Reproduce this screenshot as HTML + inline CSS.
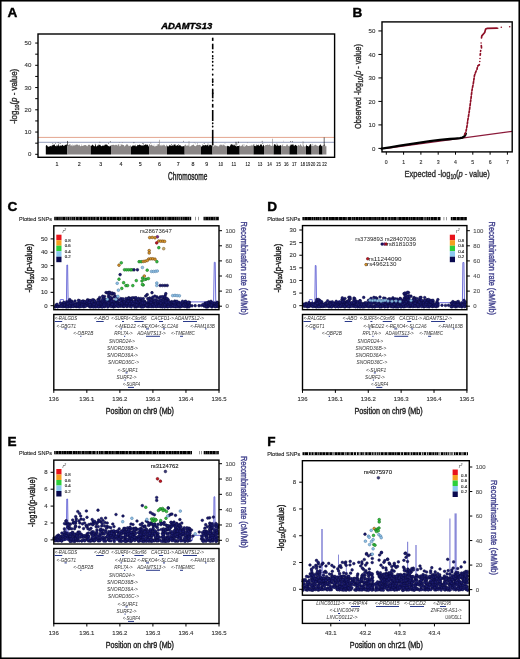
<!DOCTYPE html>
<html><head><meta charset="utf-8"><style>
html,body{margin:0;padding:0;background:#fff;}
svg{display:block;will-change:transform;}
text{font-family:"Liberation Sans",sans-serif;}
</style></head><body>
<svg width="520" height="659" viewBox="0 0 520 659">
<rect x="0" y="0" width="520" height="659" fill="#fff"/>
<rect x="0.75" y="0.75" width="518.50" height="657.50" fill="none" stroke="#000" stroke-width="1.6" />
<text x="7.40" y="16.80" font-size="13.6" text-anchor="start" font-weight="bold" font-style="normal" fill="#000" stroke="#000" stroke-width="0.4">A</text>
<text x="352.40" y="17.00" font-size="13.6" text-anchor="start" font-weight="bold" font-style="normal" fill="#000" stroke="#000" stroke-width="0.4">B</text>
<text x="7.40" y="210.50" font-size="13.6" text-anchor="start" font-weight="bold" font-style="normal" fill="#000" stroke="#000" stroke-width="0.4">C</text>
<text x="267.20" y="210.50" font-size="13.6" text-anchor="start" font-weight="bold" font-style="normal" fill="#000" stroke="#000" stroke-width="0.4">D</text>
<text x="7.40" y="445.50" font-size="13.6" text-anchor="start" font-weight="bold" font-style="normal" fill="#000" stroke="#000" stroke-width="0.4">E</text>
<text x="267.20" y="445.50" font-size="13.6" text-anchor="start" font-weight="bold" font-style="normal" fill="#000" stroke="#000" stroke-width="0.4">F</text>
<line x1="38.00" y1="137.40" x2="334.60" y2="137.40" stroke="#e3a58f" stroke-width="1.0"/>
<line x1="38.00" y1="142.30" x2="334.60" y2="142.30" stroke="#a9b1c9" stroke-width="1.3"/>
<polygon points="45.80,154.40 45.80,145.91 46.42,145.07 46.98,145.36 47.77,146.59 48.68,146.64 49.52,146.56 50.10,145.65 51.26,146.42 51.94,145.13 53.19,145.26 54.01,144.24 54.55,144.54 55.28,146.37 55.88,145.95 57.03,146.27 57.99,145.10 58.79,145.33 59.34,146.58 60.01,144.99 60.85,145.93 61.82,145.58 62.56,144.70 63.62,146.11 64.58,145.39 65.78,144.87 66.51,144.23 67.10,145.67 67.40,146.12 67.40,154.40" fill="#050505"/>
<circle cx="56.37" cy="145.13" r="0.45" fill="#050505"/>
<circle cx="60.07" cy="143.57" r="0.45" fill="#050505"/>
<circle cx="58.10" cy="142.86" r="0.45" fill="#050505"/>
<circle cx="52.76" cy="143.86" r="0.45" fill="#050505"/>
<circle cx="58.54" cy="144.21" r="0.45" fill="#050505"/>
<circle cx="55.70" cy="143.14" r="0.45" fill="#050505"/>
<polygon points="67.40,154.40 67.40,144.32 68.28,145.04 68.83,144.94 69.85,144.19 71.00,146.01 71.81,145.02 72.33,145.55 72.96,146.44 73.51,144.77 74.11,146.10 74.93,144.51 75.49,145.59 76.43,144.47 77.59,144.52 78.31,145.67 79.10,144.47 80.36,146.35 81.00,146.14 81.69,145.49 82.66,146.06 83.17,145.66 83.96,145.29 85.22,144.97 86.14,145.15 87.18,146.60 88.40,144.74 89.60,144.69 90.41,145.71 90.80,145.58 90.80,154.40" fill="#8a8686"/>
<circle cx="69.29" cy="145.10" r="0.45" fill="#8a8686"/>
<circle cx="72.58" cy="144.98" r="0.45" fill="#8a8686"/>
<circle cx="75.52" cy="145.12" r="0.45" fill="#8a8686"/>
<circle cx="67.91" cy="145.00" r="0.45" fill="#8a8686"/>
<circle cx="70.17" cy="144.67" r="0.45" fill="#8a8686"/>
<circle cx="68.47" cy="142.87" r="0.45" fill="#8a8686"/>
<circle cx="81.66" cy="145.00" r="0.45" fill="#8a8686"/>
<polygon points="90.80,154.40 90.80,146.09 91.58,145.80 92.18,144.56 93.47,145.54 94.36,146.52 94.94,145.86 95.65,144.61 96.28,146.68 97.54,145.38 98.16,145.35 98.68,145.38 99.96,144.53 101.02,146.07 101.81,146.31 102.93,145.37 104.05,145.89 104.73,144.66 106.02,144.55 107.17,144.64 108.26,146.15 109.17,145.83 109.69,146.66 110.42,146.07 111.00,145.23 111.00,154.40" fill="#050505"/>
<circle cx="99.89" cy="142.10" r="0.45" fill="#050505"/>
<circle cx="110.27" cy="141.73" r="0.45" fill="#050505"/>
<circle cx="98.30" cy="144.90" r="0.45" fill="#050505"/>
<circle cx="95.66" cy="144.93" r="0.45" fill="#050505"/>
<circle cx="95.22" cy="144.09" r="0.45" fill="#050505"/>
<circle cx="108.59" cy="143.14" r="0.45" fill="#050505"/>
<polygon points="111.00,154.40 111.00,145.51 112.02,144.69 112.59,145.04 113.82,144.73 114.92,145.51 115.56,144.72 116.33,144.69 117.60,145.72 118.43,144.31 119.51,146.30 120.11,146.35 121.33,144.67 121.95,144.62 123.23,145.05 124.01,145.33 124.62,146.70 125.89,145.07 126.82,144.35 127.66,144.50 128.82,146.19 129.52,145.99 130.22,145.23 130.92,145.66 131.00,145.28 131.00,154.40" fill="#8a8686"/>
<circle cx="118.22" cy="144.50" r="0.45" fill="#8a8686"/>
<circle cx="122.58" cy="142.57" r="0.45" fill="#8a8686"/>
<circle cx="119.49" cy="142.40" r="0.45" fill="#8a8686"/>
<circle cx="121.03" cy="144.33" r="0.45" fill="#8a8686"/>
<circle cx="121.45" cy="145.16" r="0.45" fill="#8a8686"/>
<circle cx="119.86" cy="144.95" r="0.45" fill="#8a8686"/>
<polygon points="131.00,154.40 131.00,146.72 132.14,146.29 133.02,144.88 133.96,145.90 134.88,145.31 136.01,146.46 136.95,146.10 137.68,144.76 138.58,145.30 139.69,144.40 140.54,145.17 141.45,145.42 142.50,145.58 143.43,145.51 144.68,144.95 145.88,144.32 146.59,145.30 147.85,144.59 148.46,146.42 149.00,146.21 149.00,154.40" fill="#050505"/>
<circle cx="135.59" cy="145.09" r="0.45" fill="#050505"/>
<circle cx="142.88" cy="143.47" r="0.45" fill="#050505"/>
<circle cx="146.75" cy="144.99" r="0.45" fill="#050505"/>
<circle cx="143.67" cy="143.98" r="0.45" fill="#050505"/>
<circle cx="133.93" cy="142.79" r="0.45" fill="#050505"/>
<polygon points="149.00,154.40 149.00,144.26 149.68,144.30 150.49,145.49 151.79,144.60 152.42,145.63 153.33,145.87 153.98,145.92 155.06,146.69 156.01,145.61 156.52,145.89 157.52,145.42 158.07,144.21 159.20,144.25 159.78,146.06 160.32,144.74 161.03,146.40 161.87,144.40 163.03,146.07 163.65,144.38 164.60,144.94 165.17,146.59 166.22,145.65 166.78,144.33 167.00,145.40 167.00,154.40" fill="#8a8686"/>
<circle cx="150.92" cy="143.02" r="0.45" fill="#8a8686"/>
<circle cx="150.63" cy="142.97" r="0.45" fill="#8a8686"/>
<circle cx="157.21" cy="144.72" r="0.45" fill="#8a8686"/>
<circle cx="158.90" cy="142.27" r="0.45" fill="#8a8686"/>
<circle cx="154.05" cy="145.02" r="0.45" fill="#8a8686"/>
<polygon points="167.00,154.40 167.00,145.39 167.69,146.45 168.32,146.61 168.98,145.94 169.73,144.79 170.46,145.46 171.10,145.85 171.61,146.09 172.13,144.86 173.07,146.25 173.95,144.34 174.53,144.64 175.38,145.47 176.55,145.73 177.45,144.98 178.74,145.86 179.90,144.93 180.91,145.70 181.69,146.60 182.29,146.55 183.39,146.08 184.02,146.52 184.70,145.32 184.70,154.40" fill="#050505"/>
<circle cx="178.70" cy="144.81" r="0.45" fill="#050505"/>
<circle cx="171.54" cy="144.79" r="0.45" fill="#050505"/>
<circle cx="175.17" cy="144.99" r="0.45" fill="#050505"/>
<circle cx="174.95" cy="144.84" r="0.45" fill="#050505"/>
<circle cx="183.56" cy="141.17" r="0.45" fill="#050505"/>
<polygon points="184.70,154.40 184.70,145.34 185.40,144.26 186.14,145.82 186.64,145.76 187.52,145.45 188.18,145.44 188.69,146.06 189.26,145.71 189.79,146.68 190.54,146.14 191.51,145.38 192.61,145.05 193.68,144.49 194.49,145.90 195.78,146.35 196.86,145.09 197.39,144.60 198.61,145.13 199.69,144.66 200.30,145.39 201.00,145.36 201.00,154.40" fill="#8a8686"/>
<circle cx="197.51" cy="143.23" r="0.45" fill="#8a8686"/>
<circle cx="194.14" cy="142.69" r="0.45" fill="#8a8686"/>
<circle cx="195.65" cy="143.86" r="0.45" fill="#8a8686"/>
<circle cx="188.72" cy="145.14" r="0.45" fill="#8a8686"/>
<polygon points="201.00,154.40 201.00,146.39 201.79,146.47 202.96,145.31 203.96,145.13 205.00,145.48 205.51,144.69 206.61,145.45 207.53,145.05 208.09,144.85 208.79,146.54 209.50,144.87 210.16,144.84 211.45,145.47 212.25,145.51 212.50,145.44 212.50,154.40" fill="#050505"/>
<circle cx="207.98" cy="144.03" r="0.45" fill="#050505"/>
<circle cx="202.31" cy="145.00" r="0.45" fill="#050505"/>
<circle cx="204.17" cy="143.67" r="0.45" fill="#050505"/>
<polygon points="212.50,154.40 212.50,145.96 213.45,146.70 214.00,146.05 215.04,144.96 216.08,145.99 216.99,145.55 217.87,146.43 219.08,146.23 220.36,144.34 220.88,145.56 222.03,144.26 222.89,146.05 223.56,144.32 224.23,145.25 224.84,145.39 226.11,146.40 227.00,145.72 227.00,154.40" fill="#8a8686"/>
<circle cx="224.97" cy="143.83" r="0.45" fill="#8a8686"/>
<circle cx="216.12" cy="142.64" r="0.45" fill="#8a8686"/>
<circle cx="219.56" cy="145.15" r="0.45" fill="#8a8686"/>
<circle cx="213.05" cy="144.42" r="0.45" fill="#8a8686"/>
<polygon points="227.00,154.40 227.00,145.58 227.74,146.37 228.52,145.93 229.69,146.73 230.79,144.59 231.39,144.36 232.46,144.43 233.19,145.78 234.00,144.18 234.97,145.81 235.82,146.03 236.35,146.47 237.52,146.00 238.77,146.10 239.48,145.43 239.70,145.87 239.70,154.40" fill="#050505"/>
<circle cx="238.69" cy="142.78" r="0.45" fill="#050505"/>
<circle cx="237.00" cy="144.07" r="0.45" fill="#050505"/>
<circle cx="238.19" cy="142.03" r="0.45" fill="#050505"/>
<polygon points="239.70,154.40 239.70,145.33 240.78,146.61 241.86,145.58 242.96,145.09 243.69,146.61 244.93,146.41 245.81,145.86 246.55,144.84 247.83,146.07 248.86,145.97 249.80,145.73 250.44,146.32 251.10,144.42 252.00,146.17 253.22,144.19 253.50,146.13 253.50,154.40" fill="#8a8686"/>
<circle cx="242.66" cy="145.07" r="0.45" fill="#8a8686"/>
<circle cx="244.58" cy="145.07" r="0.45" fill="#8a8686"/>
<circle cx="243.26" cy="144.84" r="0.45" fill="#8a8686"/>
<circle cx="247.49" cy="142.75" r="0.45" fill="#8a8686"/>
<polygon points="253.50,154.40 253.50,144.82 254.33,145.68 255.25,145.77 256.02,146.58 256.74,144.26 257.34,145.45 258.35,144.53 259.02,146.04 259.72,145.71 260.57,144.29 261.75,144.50 262.27,146.65 263.34,144.44 264.00,145.64 264.00,154.40" fill="#050505"/>
<circle cx="254.00" cy="144.62" r="0.45" fill="#050505"/>
<circle cx="262.80" cy="143.23" r="0.45" fill="#050505"/>
<circle cx="262.13" cy="141.19" r="0.45" fill="#050505"/>
<polygon points="264.00,154.40 264.00,146.10 264.59,146.34 265.51,144.99 266.76,144.89 267.78,144.78 268.64,145.32 269.17,144.73 269.86,144.38 270.88,145.96 271.48,146.09 272.49,144.95 273.08,146.55 273.60,145.64 273.60,154.40" fill="#8a8686"/>
<circle cx="267.84" cy="144.90" r="0.45" fill="#8a8686"/>
<circle cx="269.67" cy="145.17" r="0.45" fill="#8a8686"/>
<polygon points="273.60,154.40 273.60,145.96 274.47,144.28 275.48,144.47 276.36,146.13 277.06,144.28 278.13,145.95 278.64,145.46 279.68,145.66 280.39,145.03 281.40,146.04 281.40,154.40" fill="#050505"/>
<circle cx="274.33" cy="144.72" r="0.45" fill="#050505"/>
<circle cx="276.96" cy="143.90" r="0.45" fill="#050505"/>
<polygon points="281.40,154.40 281.40,146.23 282.54,144.84 283.44,146.21 284.72,145.94 285.87,146.14 286.55,144.79 287.29,144.30 288.18,146.26 288.86,145.67 289.40,145.23 289.40,154.40" fill="#8a8686"/>
<circle cx="282.92" cy="144.62" r="0.45" fill="#8a8686"/>
<circle cx="283.39" cy="141.11" r="0.45" fill="#8a8686"/>
<polygon points="289.40,154.40 289.40,146.37 289.94,146.58 290.76,144.44 291.96,144.86 293.26,144.35 294.02,146.26 295.27,144.83 295.80,145.03 296.60,145.78 297.37,146.30 297.50,145.98 297.50,154.40" fill="#050505"/>
<circle cx="292.40" cy="141.71" r="0.45" fill="#050505"/>
<circle cx="290.78" cy="141.47" r="0.45" fill="#050505"/>
<polygon points="297.50,154.40 297.50,146.20 298.29,144.63 299.44,145.63 299.98,145.52 300.78,144.38 301.43,145.80 302.65,146.66 303.48,144.66 304.59,146.63 305.12,146.57 306.00,146.00 306.00,154.40" fill="#8a8686"/>
<circle cx="303.60" cy="142.63" r="0.45" fill="#8a8686"/>
<circle cx="300.54" cy="144.82" r="0.45" fill="#8a8686"/>
<polygon points="306.00,154.40 306.00,144.28 306.99,146.06 308.07,145.93 308.79,146.73 309.89,144.39 310.90,144.32 311.42,146.14 311.60,145.23 311.60,154.40" fill="#050505"/>
<circle cx="310.89" cy="144.63" r="0.45" fill="#050505"/>
<polygon points="311.60,154.40 311.60,146.09 312.44,145.47 313.69,146.27 314.83,144.85 315.99,144.76 316.97,145.90 317.73,145.81 318.85,146.53 319.00,145.45 319.00,154.40" fill="#8a8686"/>
<circle cx="313.68" cy="145.10" r="0.45" fill="#8a8686"/>
<circle cx="312.32" cy="144.28" r="0.45" fill="#8a8686"/>
<polygon points="319.00,154.40 319.00,145.90 320.28,144.47 321.57,146.06 322.14,146.49 322.60,145.50 322.60,154.40" fill="#050505"/>
<circle cx="320.66" cy="144.88" r="0.45" fill="#050505"/>
<polygon points="322.60,154.40 322.60,145.67 323.60,145.01 324.69,144.57 325.73,146.42 326.40,145.96 326.40,154.40" fill="#8a8686"/>
<circle cx="324.69" cy="144.66" r="0.45" fill="#8a8686"/>
<line x1="67.50" y1="145.84" x2="67.50" y2="140.95" stroke="#050505" stroke-width="0.6"/>
<line x1="159.50" y1="145.84" x2="159.50" y2="139.84" stroke="#8a8686" stroke-width="0.6"/>
<line x1="272.50" y1="145.84" x2="272.50" y2="138.73" stroke="#8a8686" stroke-width="0.6"/>
<line x1="324.20" y1="145.84" x2="324.20" y2="137.39" stroke="#050505" stroke-width="0.6"/>
<line x1="189.00" y1="145.84" x2="189.00" y2="140.95" stroke="#8a8686" stroke-width="0.6"/>
<line x1="236.00" y1="145.84" x2="236.00" y2="141.84" stroke="#050505" stroke-width="0.6"/>
<line x1="303.00" y1="145.84" x2="303.00" y2="141.17" stroke="#8a8686" stroke-width="0.6"/>
<line x1="212.70" y1="145.40" x2="212.70" y2="129.80" stroke="#000" stroke-width="1.6"/>
<line x1="212.70" y1="37.70" x2="212.70" y2="40.90" stroke="#000" stroke-width="1.6"/>
<line x1="212.70" y1="43.70" x2="212.70" y2="49.30" stroke="#000" stroke-width="1.6"/>
<line x1="212.70" y1="90.00" x2="212.70" y2="98.30" stroke="#000" stroke-width="1.6"/>
<line x1="212.70" y1="103.90" x2="212.70" y2="107.60" stroke="#000" stroke-width="1.6"/>
<line x1="212.70" y1="110.00" x2="212.70" y2="121.00" stroke="#000" stroke-width="1.6"/>
<ellipse cx="212.70" cy="56.20" rx="0.85" ry="1.1" fill="#000"/>
<ellipse cx="212.70" cy="58.50" rx="0.85" ry="1.1" fill="#000"/>
<ellipse cx="212.70" cy="61.80" rx="0.85" ry="1.1" fill="#000"/>
<ellipse cx="212.70" cy="65.50" rx="0.85" ry="1.1" fill="#000"/>
<ellipse cx="212.70" cy="74.70" rx="0.85" ry="1.1" fill="#000"/>
<ellipse cx="212.70" cy="79.40" rx="0.85" ry="1.1" fill="#000"/>
<ellipse cx="212.70" cy="81.00" rx="0.85" ry="1.1" fill="#000"/>
<ellipse cx="212.70" cy="82.10" rx="0.85" ry="1.1" fill="#000"/>
<ellipse cx="212.70" cy="84.90" rx="0.85" ry="1.1" fill="#000"/>
<ellipse cx="212.70" cy="89.60" rx="0.85" ry="1.1" fill="#000"/>
<ellipse cx="212.70" cy="93.30" rx="0.85" ry="1.1" fill="#000"/>
<ellipse cx="212.70" cy="100.60" rx="0.85" ry="1.1" fill="#000"/>
<ellipse cx="212.70" cy="123.30" rx="0.85" ry="1.1" fill="#000"/>
<ellipse cx="212.70" cy="126.60" rx="0.85" ry="1.1" fill="#000"/>
<ellipse cx="212.70" cy="52.00" rx="0.85" ry="1.1" fill="#000"/>
<ellipse cx="212.70" cy="69.50" rx="0.85" ry="1.1" fill="#000"/>
<rect x="38.00" y="34.00" width="296.60" height="123.30" fill="none" stroke="#000" stroke-width="1.4" />
<line x1="35.20" y1="154.30" x2="38.00" y2="154.30" stroke="#000" stroke-width="1"/>
<line x1="35.20" y1="143.18" x2="38.00" y2="143.18" stroke="#000" stroke-width="1"/>
<line x1="35.20" y1="132.05" x2="38.00" y2="132.05" stroke="#000" stroke-width="1"/>
<line x1="35.20" y1="120.93" x2="38.00" y2="120.93" stroke="#000" stroke-width="1"/>
<line x1="35.20" y1="109.80" x2="38.00" y2="109.80" stroke="#000" stroke-width="1"/>
<line x1="35.20" y1="98.68" x2="38.00" y2="98.68" stroke="#000" stroke-width="1"/>
<line x1="35.20" y1="87.55" x2="38.00" y2="87.55" stroke="#000" stroke-width="1"/>
<line x1="35.20" y1="76.43" x2="38.00" y2="76.43" stroke="#000" stroke-width="1"/>
<line x1="35.20" y1="65.30" x2="38.00" y2="65.30" stroke="#000" stroke-width="1"/>
<line x1="35.20" y1="54.18" x2="38.00" y2="54.18" stroke="#000" stroke-width="1"/>
<line x1="35.20" y1="43.05" x2="38.00" y2="43.05" stroke="#000" stroke-width="1"/>
<text x="31.30" y="156.40" font-size="6.1" text-anchor="end" font-weight="normal" font-style="normal" fill="#333" stroke="#333" stroke-width="0.12">0</text>
<text x="31.30" y="134.15" font-size="6.1" text-anchor="end" font-weight="normal" font-style="normal" fill="#333" stroke="#333" stroke-width="0.12">10</text>
<text x="31.30" y="111.90" font-size="6.1" text-anchor="end" font-weight="normal" font-style="normal" fill="#333" stroke="#333" stroke-width="0.12">20</text>
<text x="31.30" y="89.65" font-size="6.1" text-anchor="end" font-weight="normal" font-style="normal" fill="#333" stroke="#333" stroke-width="0.12">30</text>
<text x="31.30" y="67.40" font-size="6.1" text-anchor="end" font-weight="normal" font-style="normal" fill="#333" stroke="#333" stroke-width="0.12">40</text>
<text x="31.30" y="45.15" font-size="6.1" text-anchor="end" font-weight="normal" font-style="normal" fill="#333" stroke="#333" stroke-width="0.12">50</text>
<text transform="translate(17.4,96.3) rotate(-90)" font-size="8.6" fill="#333" stroke="#333" stroke-width="0.4" text-anchor="middle" textLength="55" lengthAdjust="spacingAndGlyphs">-log<tspan font-size="5.8" dy="1.8">10</tspan><tspan dy="-1.8">(</tspan><tspan font-style="italic">p</tspan> - value)</text>
<text x="56.90" y="166.00" font-size="5.3" text-anchor="middle" font-weight="normal" font-style="normal" fill="#222" stroke="#222" stroke-width="0.12">1</text>
<text x="79.20" y="166.00" font-size="5.3" text-anchor="middle" font-weight="normal" font-style="normal" fill="#222" stroke="#222" stroke-width="0.12">2</text>
<text x="100.80" y="166.00" font-size="5.3" text-anchor="middle" font-weight="normal" font-style="normal" fill="#222" stroke="#222" stroke-width="0.12">3</text>
<text x="121.00" y="166.00" font-size="5.3" text-anchor="middle" font-weight="normal" font-style="normal" fill="#222" stroke="#222" stroke-width="0.12">4</text>
<text x="140.30" y="166.00" font-size="5.3" text-anchor="middle" font-weight="normal" font-style="normal" fill="#222" stroke="#222" stroke-width="0.12">5</text>
<text x="159.50" y="166.00" font-size="5.3" text-anchor="middle" font-weight="normal" font-style="normal" fill="#222" stroke="#222" stroke-width="0.12">6</text>
<text x="178.30" y="166.00" font-size="5.3" text-anchor="middle" font-weight="normal" font-style="normal" fill="#222" stroke="#222" stroke-width="0.12">7</text>
<text x="193.00" y="166.00" font-size="5.3" text-anchor="middle" font-weight="normal" font-style="normal" fill="#222" stroke="#222" stroke-width="0.12">8</text>
<text x="206.70" y="166.00" font-size="5.3" text-anchor="middle" font-weight="normal" font-style="normal" fill="#222" stroke="#222" stroke-width="0.12">9</text>
<text x="220.70" y="166.00" font-size="5.3" text-anchor="middle" font-weight="normal" font-style="normal" fill="#222" textLength="4.6" lengthAdjust="spacingAndGlyphs" stroke="#222" stroke-width="0.12">10</text>
<text x="233.80" y="166.00" font-size="5.3" text-anchor="middle" font-weight="normal" font-style="normal" fill="#222" textLength="4.6" lengthAdjust="spacingAndGlyphs" stroke="#222" stroke-width="0.12">11</text>
<text x="247.80" y="166.00" font-size="5.3" text-anchor="middle" font-weight="normal" font-style="normal" fill="#222" textLength="4.6" lengthAdjust="spacingAndGlyphs" stroke="#222" stroke-width="0.12">12</text>
<text x="260.00" y="166.00" font-size="5.3" text-anchor="middle" font-weight="normal" font-style="normal" fill="#222" textLength="4.6" lengthAdjust="spacingAndGlyphs" stroke="#222" stroke-width="0.12">13</text>
<text x="269.50" y="166.00" font-size="5.3" text-anchor="middle" font-weight="normal" font-style="normal" fill="#222" textLength="4.6" lengthAdjust="spacingAndGlyphs" stroke="#222" stroke-width="0.12">14</text>
<text x="278.40" y="166.00" font-size="5.3" text-anchor="middle" font-weight="normal" font-style="normal" fill="#222" textLength="4.6" lengthAdjust="spacingAndGlyphs" stroke="#222" stroke-width="0.12">15</text>
<text x="286.30" y="166.00" font-size="5.3" text-anchor="middle" font-weight="normal" font-style="normal" fill="#222" textLength="4.6" lengthAdjust="spacingAndGlyphs" stroke="#222" stroke-width="0.12">16</text>
<text x="294.30" y="166.00" font-size="5.3" text-anchor="middle" font-weight="normal" font-style="normal" fill="#222" textLength="4.6" lengthAdjust="spacingAndGlyphs" stroke="#222" stroke-width="0.12">17</text>
<text x="302.70" y="166.00" font-size="5.3" text-anchor="middle" font-weight="normal" font-style="normal" fill="#222" textLength="4.6" lengthAdjust="spacingAndGlyphs" stroke="#222" stroke-width="0.12">18</text>
<text x="308.00" y="166.00" font-size="5.3" text-anchor="middle" font-weight="normal" font-style="normal" fill="#222" textLength="4.6" lengthAdjust="spacingAndGlyphs" stroke="#222" stroke-width="0.12">19</text>
<text x="313.00" y="166.00" font-size="5.3" text-anchor="middle" font-weight="normal" font-style="normal" fill="#222" textLength="4.6" lengthAdjust="spacingAndGlyphs" stroke="#222" stroke-width="0.12">20</text>
<text x="318.70" y="166.00" font-size="5.3" text-anchor="middle" font-weight="normal" font-style="normal" fill="#222" textLength="4.6" lengthAdjust="spacingAndGlyphs" stroke="#222" stroke-width="0.12">21</text>
<text x="324.50" y="166.00" font-size="5.3" text-anchor="middle" font-weight="normal" font-style="normal" fill="#222" textLength="4.6" lengthAdjust="spacingAndGlyphs" stroke="#222" stroke-width="0.12">22</text>
<text x="168.10" y="179.70" font-size="10.3" text-anchor="start" font-weight="normal" font-style="normal" fill="#222" textLength="39.2" lengthAdjust="spacingAndGlyphs" stroke="#222" stroke-width="0.4">Chromosome</text>
<text x="161.20" y="28.80" font-size="8.8" text-anchor="start" font-weight="bold" font-style="italic" fill="#000" textLength="51" lengthAdjust="spacingAndGlyphs" stroke="#000" stroke-width="0.4">ADAMTS13</text>
<line x1="386.30" y1="148.40" x2="512.20" y2="131.31" stroke="#8b1a3a" stroke-width="1.3"/>
<polyline points="381.50,148.60 390.00,147.30 400.00,145.60 410.00,144.10 420.00,142.60 430.00,141.20 440.00,139.90 450.00,139.00 455.00,138.60 460.00,138.10 462.50,137.60 464.20,136.60 465.20,135.20 465.80,133.50" fill="none" stroke="#000" stroke-width="2.3" stroke-linejoin="round" stroke-linecap="round"/>
<polyline points="464.60,134.60 466.00,131.50 467.10,125.50 468.00,119.00 469.00,113.30 470.00,106.00 470.80,100.00 471.40,95.00 472.00,90.30 472.60,87.00 473.20,84.20 473.90,79.50 474.40,75.80 475.30,73.00 476.20,70.90 477.00,69.50 477.50,66.20 479.40,64.70" fill="none" stroke="#8f0f26" stroke-width="1.7" stroke-dasharray="2.0 1.7" stroke-linecap="round"/>
<polyline points="480.20,55.10 480.40,53.50" fill="none" stroke="#8f0f26" stroke-width="1.7" stroke-linecap="round" stroke-linejoin="round"/>
<polyline points="480.60,51.25 480.70,50.50" fill="none" stroke="#8f0f26" stroke-width="1.7" stroke-linecap="round" stroke-linejoin="round"/>
<polyline points="481.30,45.50 481.50,47.90" fill="none" stroke="#8f0f26" stroke-width="1.7" stroke-linecap="round" stroke-linejoin="round"/>
<polyline points="481.50,37.80 481.80,35.90 484.70,32.50 485.20,30.60 485.70,29.10 487.00,28.40 496.70,28.20" fill="none" stroke="#8f0f26" stroke-width="1.7" stroke-linecap="round" stroke-linejoin="round"/>
<circle cx="497.70" cy="28.20" r="0.8" fill="#8f0f26"/>
<circle cx="501.30" cy="27.20" r="0.8" fill="#8f0f26"/>
<circle cx="509.70" cy="26.70" r="0.8" fill="#8f0f26"/>
<circle cx="481.10" cy="43.00" r="0.8" fill="#8f0f26"/>
<circle cx="480.00" cy="58.50" r="0.8" fill="#8f0f26"/>
<circle cx="479.80" cy="61.50" r="0.8" fill="#8f0f26"/>
<rect x="382.00" y="21.90" width="130.20" height="130.00" fill="none" stroke="#000" stroke-width="1.4" />
<line x1="378.40" y1="148.40" x2="382.00" y2="148.40" stroke="#000" stroke-width="1"/>
<text x="375.40" y="150.50" font-size="6.1" text-anchor="end" font-weight="normal" font-style="normal" fill="#333" stroke="#333" stroke-width="0.12">0</text>
<line x1="378.40" y1="124.91" x2="382.00" y2="124.91" stroke="#000" stroke-width="1"/>
<text x="375.40" y="127.01" font-size="6.1" text-anchor="end" font-weight="normal" font-style="normal" fill="#333" stroke="#333" stroke-width="0.12">10</text>
<line x1="378.40" y1="101.42" x2="382.00" y2="101.42" stroke="#000" stroke-width="1"/>
<text x="375.40" y="103.52" font-size="6.1" text-anchor="end" font-weight="normal" font-style="normal" fill="#333" stroke="#333" stroke-width="0.12">20</text>
<line x1="378.40" y1="77.93" x2="382.00" y2="77.93" stroke="#000" stroke-width="1"/>
<text x="375.40" y="80.03" font-size="6.1" text-anchor="end" font-weight="normal" font-style="normal" fill="#333" stroke="#333" stroke-width="0.12">30</text>
<line x1="378.40" y1="54.44" x2="382.00" y2="54.44" stroke="#000" stroke-width="1"/>
<text x="375.40" y="56.54" font-size="6.1" text-anchor="end" font-weight="normal" font-style="normal" fill="#333" stroke="#333" stroke-width="0.12">40</text>
<line x1="378.40" y1="30.95" x2="382.00" y2="30.95" stroke="#000" stroke-width="1"/>
<text x="375.40" y="33.05" font-size="6.1" text-anchor="end" font-weight="normal" font-style="normal" fill="#333" stroke="#333" stroke-width="0.12">50</text>
<line x1="386.30" y1="151.90" x2="386.30" y2="154.70" stroke="#000" stroke-width="1"/>
<text x="386.30" y="163.60" font-size="5.2" text-anchor="middle" font-weight="normal" font-style="normal" fill="#333" stroke="#333" stroke-width="0.12">0</text>
<line x1="403.60" y1="151.90" x2="403.60" y2="154.70" stroke="#000" stroke-width="1"/>
<text x="403.60" y="163.60" font-size="5.2" text-anchor="middle" font-weight="normal" font-style="normal" fill="#333" stroke="#333" stroke-width="0.12">1</text>
<line x1="420.90" y1="151.90" x2="420.90" y2="154.70" stroke="#000" stroke-width="1"/>
<text x="420.90" y="163.60" font-size="5.2" text-anchor="middle" font-weight="normal" font-style="normal" fill="#333" stroke="#333" stroke-width="0.12">2</text>
<line x1="438.20" y1="151.90" x2="438.20" y2="154.70" stroke="#000" stroke-width="1"/>
<text x="438.20" y="163.60" font-size="5.2" text-anchor="middle" font-weight="normal" font-style="normal" fill="#333" stroke="#333" stroke-width="0.12">3</text>
<line x1="455.50" y1="151.90" x2="455.50" y2="154.70" stroke="#000" stroke-width="1"/>
<text x="455.50" y="163.60" font-size="5.2" text-anchor="middle" font-weight="normal" font-style="normal" fill="#333" stroke="#333" stroke-width="0.12">4</text>
<line x1="472.80" y1="151.90" x2="472.80" y2="154.70" stroke="#000" stroke-width="1"/>
<text x="472.80" y="163.60" font-size="5.2" text-anchor="middle" font-weight="normal" font-style="normal" fill="#333" stroke="#333" stroke-width="0.12">5</text>
<line x1="490.10" y1="151.90" x2="490.10" y2="154.70" stroke="#000" stroke-width="1"/>
<text x="490.10" y="163.60" font-size="5.2" text-anchor="middle" font-weight="normal" font-style="normal" fill="#333" stroke="#333" stroke-width="0.12">6</text>
<line x1="507.40" y1="151.90" x2="507.40" y2="154.70" stroke="#000" stroke-width="1"/>
<text x="507.40" y="163.60" font-size="5.2" text-anchor="middle" font-weight="normal" font-style="normal" fill="#333" stroke="#333" stroke-width="0.12">7</text>
<text transform="translate(360.6,86.6) rotate(-90)" font-size="9.4" fill="#333" stroke="#333" stroke-width="0.4" text-anchor="middle" textLength="85" lengthAdjust="spacingAndGlyphs">Observed -log<tspan font-size="6.3" dy="2">10</tspan><tspan dy="-2">(</tspan><tspan font-style="italic">p</tspan> - value)</text>
<text x="404.6" y="176.9" font-size="9.4" fill="#333" stroke="#333" stroke-width="0.4" textLength="85.2" lengthAdjust="spacingAndGlyphs">Expected -log<tspan font-size="6.3" dy="2">10</tspan><tspan dy="-2">(</tspan><tspan font-style="italic">p</tspan> - value)</text>
<text x="19.00" y="220.60" font-size="5.5" text-anchor="start" font-weight="normal" font-style="normal" fill="#222" textLength="33" lengthAdjust="spacingAndGlyphs" stroke="#222" stroke-width="0.12">Plotted SNPs</text>
<rect x="54.20" y="216.80" width="137.00" height="3.50" fill="#000"/>
<rect x="55.68" y="216.80" width="0.52" height="3.50" fill="#fff" opacity="0.55"/>
<rect x="58.57" y="216.80" width="0.55" height="3.50" fill="#fff" opacity="0.39"/>
<rect x="59.80" y="216.80" width="0.63" height="3.50" fill="#fff" opacity="0.49"/>
<rect x="61.66" y="216.80" width="0.70" height="3.50" fill="#fff" opacity="0.61"/>
<rect x="65.20" y="216.80" width="0.49" height="3.50" fill="#fff" opacity="0.70"/>
<rect x="66.82" y="216.80" width="0.55" height="3.50" fill="#fff" opacity="0.83"/>
<rect x="69.49" y="216.80" width="0.60" height="3.50" fill="#fff" opacity="0.72"/>
<rect x="70.87" y="216.80" width="0.60" height="3.50" fill="#fff" opacity="0.68"/>
<rect x="72.91" y="216.80" width="0.31" height="3.50" fill="#fff" opacity="0.83"/>
<rect x="75.44" y="216.80" width="0.59" height="3.50" fill="#fff" opacity="0.83"/>
<rect x="78.63" y="216.80" width="0.67" height="3.50" fill="#fff" opacity="0.57"/>
<rect x="82.08" y="216.80" width="0.48" height="3.50" fill="#fff" opacity="0.86"/>
<rect x="85.74" y="216.80" width="0.34" height="3.50" fill="#fff" opacity="0.42"/>
<rect x="87.55" y="216.80" width="0.69" height="3.50" fill="#fff" opacity="0.59"/>
<rect x="90.50" y="216.80" width="0.42" height="3.50" fill="#fff" opacity="0.63"/>
<rect x="92.78" y="216.80" width="0.44" height="3.50" fill="#fff" opacity="0.67"/>
<rect x="95.62" y="216.80" width="0.66" height="3.50" fill="#fff" opacity="0.73"/>
<rect x="99.42" y="216.80" width="0.64" height="3.50" fill="#fff" opacity="0.90"/>
<rect x="102.50" y="216.80" width="0.37" height="3.50" fill="#fff" opacity="0.82"/>
<rect x="106.40" y="216.80" width="0.66" height="3.50" fill="#fff" opacity="0.66"/>
<rect x="109.60" y="216.80" width="0.38" height="3.50" fill="#fff" opacity="0.81"/>
<rect x="112.40" y="216.80" width="0.41" height="3.50" fill="#fff" opacity="0.38"/>
<rect x="115.99" y="216.80" width="0.70" height="3.50" fill="#fff" opacity="0.40"/>
<rect x="119.44" y="216.80" width="0.46" height="3.50" fill="#fff" opacity="0.43"/>
<rect x="121.46" y="216.80" width="0.61" height="3.50" fill="#fff" opacity="0.83"/>
<rect x="122.78" y="216.80" width="0.55" height="3.50" fill="#fff" opacity="0.37"/>
<rect x="125.99" y="216.80" width="0.43" height="3.50" fill="#fff" opacity="0.83"/>
<rect x="129.94" y="216.80" width="0.50" height="3.50" fill="#fff" opacity="0.90"/>
<rect x="132.01" y="216.80" width="0.33" height="3.50" fill="#fff" opacity="0.68"/>
<rect x="133.29" y="216.80" width="0.38" height="3.50" fill="#fff" opacity="0.57"/>
<rect x="136.20" y="216.80" width="0.36" height="3.50" fill="#fff" opacity="0.37"/>
<rect x="139.83" y="216.80" width="0.43" height="3.50" fill="#fff" opacity="0.88"/>
<rect x="143.54" y="216.80" width="0.45" height="3.50" fill="#fff" opacity="0.60"/>
<rect x="146.20" y="216.80" width="0.56" height="3.50" fill="#fff" opacity="0.68"/>
<rect x="148.97" y="216.80" width="0.55" height="3.50" fill="#fff" opacity="0.87"/>
<rect x="151.59" y="216.80" width="0.47" height="3.50" fill="#fff" opacity="0.75"/>
<rect x="153.45" y="216.80" width="0.42" height="3.50" fill="#fff" opacity="0.89"/>
<rect x="156.11" y="216.80" width="0.52" height="3.50" fill="#fff" opacity="0.36"/>
<rect x="158.47" y="216.80" width="0.53" height="3.50" fill="#fff" opacity="0.36"/>
<rect x="161.40" y="216.80" width="0.55" height="3.50" fill="#fff" opacity="0.38"/>
<rect x="164.35" y="216.80" width="0.49" height="3.50" fill="#fff" opacity="0.72"/>
<rect x="166.54" y="216.80" width="0.58" height="3.50" fill="#fff" opacity="0.76"/>
<rect x="167.80" y="216.80" width="0.32" height="3.50" fill="#fff" opacity="0.72"/>
<rect x="171.70" y="216.80" width="0.40" height="3.50" fill="#fff" opacity="0.60"/>
<rect x="174.56" y="216.80" width="0.43" height="3.50" fill="#fff" opacity="0.55"/>
<rect x="176.64" y="216.80" width="0.45" height="3.50" fill="#fff" opacity="0.68"/>
<rect x="178.68" y="216.80" width="0.45" height="3.50" fill="#fff" opacity="0.77"/>
<rect x="179.95" y="216.80" width="0.53" height="3.50" fill="#fff" opacity="0.75"/>
<rect x="182.02" y="216.80" width="0.39" height="3.50" fill="#fff" opacity="0.79"/>
<rect x="183.89" y="216.80" width="0.37" height="3.50" fill="#fff" opacity="0.59"/>
<rect x="187.04" y="216.80" width="0.34" height="3.50" fill="#fff" opacity="0.53"/>
<rect x="189.18" y="216.80" width="0.63" height="3.50" fill="#fff" opacity="0.59"/>
<rect x="203.50" y="216.80" width="15.30" height="3.50" fill="#000"/>
<rect x="204.84" y="216.80" width="0.43" height="3.50" fill="#fff" opacity="0.71"/>
<rect x="208.52" y="216.80" width="0.48" height="3.50" fill="#fff" opacity="0.47"/>
<rect x="210.05" y="216.80" width="0.51" height="3.50" fill="#fff" opacity="0.45"/>
<rect x="213.51" y="216.80" width="0.64" height="3.50" fill="#fff" opacity="0.45"/>
<rect x="215.49" y="216.80" width="0.62" height="3.50" fill="#fff" opacity="0.70"/>
<rect x="195.50" y="216.80" width="0.5" height="3.50" fill="#333"/>
<rect x="198.00" y="216.80" width="0.5" height="3.50" fill="#333"/>
<polyline points="54.50,306.30 59.60,306.30 60.30,299.60 63.50,299.60 64.40,306.20 66.40,306.20 66.90,265.00 67.60,265.00 68.20,306.20 173.00,306.20 173.60,301.90 213.60,301.90 214.30,262.30 215.20,262.30 215.80,305.50 218.50,305.50" fill="none" stroke="#6d6dd8" stroke-width="1" stroke-linejoin="round"/>
<defs><marker id="mn" markerUnits="userSpaceOnUse" markerWidth="3.55" markerHeight="3.55" refX="1.78" refY="1.78" viewBox="0 0 3.55 3.55" overflow="visible"><circle cx="1.78" cy="1.78" r="1.35" fill="#1a1a6e" stroke="#0b0b3a" stroke-width="0.45"/></marker></defs>
<path d="M149.2 304.4 151.3 303.2 83.4 306.7 171.7 303.2 104.6 296.6 63.5 306.5 110.1 305.1 181.9 305.2 118.8 304.6 118.4 305.0 166.0 302.7 182.5 301.3 91.5 306.7 125.8 301.9 174.8 301.1 113.5 307.0 144.9 301.6 66.2 303.4 125.8 304.5 163.4 304.8 109.5 301.2 94.3 306.4 129.9 305.0 178.9 302.3 166.9 306.4 70.9 305.1 108.1 300.8 129.2 301.5 94.6 302.8 101.1 301.8 112.9 306.2 121.8 301.7 103.0 303.4 117.8 302.9 129.7 303.4 95.0 304.3 176.7 305.1 217.0 306.4 149.0 302.6 107.7 306.9 92.1 306.0 155.7 306.4 129.8 306.2 217.0 302.3 127.0 306.6 120.6 304.6 149.5 306.3 155.3 303.2 184.2 306.1 111.1 304.5 105.0 299.7 171.7 301.7 92.8 303.4 168.2 299.8 189.1 303.8 168.5 305.3 156.9 296.9 128.4 304.8 116.4 301.1 162.1 303.1 105.3 303.8 187.9 306.8 208.2 305.2 212.0 306.9 123.5 303.5 93.8 300.0 162.1 299.7 140.7 306.6 61.3 305.3 84.2 306.6 62.7 303.7 68.5 306.8 108.5 295.9 66.6 306.9 104.6 304.7 113.2 302.9 143.3 298.7 157.1 301.6 119.5 303.3 90.3 303.5 122.4 304.9 117.7 306.2 160.3 296.9 82.6 301.2 99.6 304.7 164.5 303.5 113.5 303.6 87.1 302.1 151.7 305.2 144.1 301.5 171.5 302.5 151.6 306.6 218.3 306.7 128.8 297.8 75.6 303.6 173.3 303.6 208.7 306.2 93.3 307.0 56.1 305.0 167.8 301.6 73.8 306.5 87.8 304.7 113.5 305.1 91.2 304.7 131.4 305.2 182.6 305.5 111.6 306.1 132.5 304.5 163.8 297.9 88.6 306.1 105.9 303.1 80.4 303.6 103.9 300.4 63.6 302.8 84.2 302.8 177.8 306.7 167.1 301.4 126.9 299.4 163.8 302.6 92.6 299.8 184.2 303.7 99.1 299.2 66.6 301.9 100.1 306.6 211.3 306.5 144.7 305.1 135.0 303.6 160.9 305.2 56.5 306.1 75.5 306.3 112.4 303.5 167.5 306.9 99.7 301.3 89.5 301.3 80.5 306.5 209.0 303.8 154.1 304.5 144.6 306.0 128.8 304.6 130.1 301.9 165.7 306.3 112.8 305.0 83.6 301.1 140.0 302.5 115.1 296.0 205.5 305.2 168.1 303.7 175.4 302.2 189.1 304.9 187.5 303.4 159.0 302.9 106.0 292.5 139.1 304.7 134.8 306.9 157.8 305.3 99.7 297.5 135.9 303.9 121.4 304.3 131.7 299.9 214.1 305.1 138.4 306.1 148.3 306.7 131.3 303.6 97.7 306.1 108.7 306.3 101.4 305.0 122.7 306.1 149.8 303.2 103.0 306.3 152.2 298.7 158.2 306.3 95.4 306.9 66.6 305.2 147.5 303.1 98.0 305.1 138.5 298.3 76.4 306.6 104.9 306.3 173.3 302.3 126.7 305.1 153.7 303.0 78.2 306.3 101.5 306.7 103.9 303.4 85.5 302.1 104.5 306.7 134.0 297.9 114.5 306.2 80.0 304.7 156.5 299.7 155.8 302.3 98.0 299.6 150.5 304.6 140.8 299.9 133.8 303.5 107.5 300.9 176.1 305.1 110.1 299.9 123.5 306.4 158.6 301.5 87.6 299.8 99.8 304.5 87.9 303.4 149.9 298.6 59.2 306.2 137.8 301.2 117.1 302.0 152.7 303.4 79.5 304.8 114.0 297.0 133.5 305.0 188.1 305.2 165.5 299.9 86.1 303.7 117.2 297.5 138.9 303.2 75.0 301.0 165.4 298.1 207.7 306.9 160.2 306.6 214.5 303.3 216.6 305.0 147.5 306.4 90.1 306.9 153.1 301.0 154.8 296.2 127.7 302.4 79.3 306.9 165.8 304.3 168.3 303.1 102.2 302.3 181.7 303.5 114.2 306.0 146.4 306.3 123.3 305.3 144.0 305.0 141.8 306.9 109.4 299.0 162.4 301.4 78.5 303.8 83.2 302.7 180.8 303.3 165.0 298.9 55.3 306.9 111.0 306.5 120.8 298.6 186.9 304.8 99.9 302.8 157.3 305.4 122.5 300.5 186.8 307.0 153.0 304.7 207.0 305.3 208.8 301.8 134.4 303.4 113.6 301.9 210.4 302.7 150.2 302.8 74.0 304.9 112.2 294.2 174.9 303.1 106.0 304.7 146.3 303.2 91.0 303.9 132.3 301.7 96.3 302.6 90.9 300.8 126.4 306.1 69.0 304.8 155.3 304.1 108.9 292.3 176.5 302.5 145.1 303.2 85.1 304.8 65.2 304.5 137.8 304.1 88.4 305.2 169.5 306.2 140.8 298.5 103.9 305.2 96.7 306.7 184.7 303.1 86.7 303.3 115.7 306.3 64.4 303.8 215.2 304.9 139.6 300.5 110.0 303.2 172.0 304.6 141.4 301.5 186.3 305.2 81.3 303.0 57.3 306.2 69.6 301.2 99.8 303.2 187.5 302.6 114.2 293.7 158.1 302.9 139.6 301.8 115.0 302.5 99.1 306.6 207.4 303.2 110.8 302.3 169.3 301.8 88.3 303.4 131.3 301.8 171.5 304.5 131.3 306.8 156.6 306.7 77.2 306.4 205.1 303.2 70.8 306.9 206.3 304.9 98.5 306.9 67.8 302.0 148.0 304.8 111.6 298.2 135.6 300.2 67.6 305.2 140.0 305.1 88.3 300.4 165.2 295.7 173.8 304.8 185.8 306.1 78.5 304.7 167.1 298.6 78.7 302.9 170.3 303.2 185.0 301.6 98.2 300.6 128.9 306.0 65.3 306.7 116.4 299.8 96.4 304.9 136.4 299.6 135.4 305.2 111.4 299.1 152.7 304.6 214.1 303.1 95.0 301.5 114.2 302.8 217.9 302.9 175.4 303.5 71.7 301.2 172.4 306.5 206.4 306.9 120.3 306.2 124.9 305.1 135.9 297.7 154.6 299.9 143.2 304.7 60.5 303.1 216.6 304.5 94.9 303.0 116.8 303.8 117.4 300.1 152.8 297.1 205.8 306.6 71.1 302.0 147.1 305.1 77.5 303.2 90.2 304.7 63.7 306.2 170.9 306.8 160.4 300.3 129.3 300.5 139.1 306.1 189.4 302.3 103.2 297.4 128.3 300.4 140.8 304.1 107.3 292.9 136.5 301.1 159.9 303.3 72.0 306.1 169.8 304.6 167.6 304.3 84.3 304.7 73.5 304.9 114.4 304.7 204.0 306.1 67.2 306.7 84.9 301.8 162.3 306.9 94.6 301.1 109.3 293.7 210.0 304.7 179.4 306.9 138.0 302.7 85.4 305.5 126.3 303.2 218.0 305.0 165.0 300.6 89.8 300.4 149.7 298.0 123.6 301.5 72.6 305.3 124.2 303.0 164.4 301.3 82.1 301.6 121.2 306.1 108.8 298.1 142.8 301.3 69.6 306.2 129.6 303.6 64.1 305.7 173.8 306.6 141.3 302.9 143.9 306.3 102.6 301.5 69.7 299.6 79.6 300.9 76.1 305.6 216.6 306.3 114.6 304.8 107.3 304.2 174.7 304.8 85.6 306.3 69.8 305.1 149.5 301.6 130.0 298.5 208.3 303.0 153.2 306.7 118.7 300.2 104.1 300.9 105.7 300.2 137.5 302.8 204.4 305.1 106.4 301.2 88.3 302.1 81.9 304.8 164.6 307.0 159.1 298.2 126.7 303.4 147.8 298.7 98.2 304.2 136.7 306.8 214.2 306.3 178.3 303.1 160.9 306.4 188.3 303.3 149.7 301.7 159.3 304.8 111.4 301.0 122.9 298.8 112.4 293.0 57.1 304.3 151.4 300.9 212.1 305.0 169.0 304.2 180.6 306.8 87.0 300.9 103.4 298.5 136.1 301.8 125.4 300.5 133.9 301.6 206.7 302.9 178.4 304.7 102.4 307.0 135.3 306.1 64.0 302.5 57.7 307.0 124.1 301.9 118.9 306.0 98.6 302.7 185.7 301.3 165.8 301.2 164.8 304.8 168.4 306.5 119.8 303.5 158.2 301.6 132.8 303.5 136.0 306.5 122.0 303.8 121.2 302.8 159.9 305.2 137.3 305.2 181.9 306.3 184.8 304.3 118.3 306.4 72.9 306.4 97.8 303.0 150.4 306.3 164.6 296.7 108.3 304.8 175.7 306.8 92.5 304.4 64.2 305.1 143.2 306.8 154.2 306.2 146.6 305.2 211.0 301.3 144.5 303.2 128.2 301.3 159.8 302.2 176.3 306.6 60.1 306.5 215.3 306.8 107.5 299.4 130.8 298.5 77.1 304.9 116.9 305.0 188.4 302.2 212.1 302.9 173.1 305.6 75.1 304.9 151.0 302.4 92.4 303.1 148.6 300.9 169.3 303.1 166.4 302.7 142.5 302.9 78.5 300.3 89.5 303.9 160.8 303.0 162.3 296.7 174.0 302.6 69.1 302.8 189.2 306.8 135.3 304.7 102.4 299.7 109.5 296.7 120.5 300.2 168.4 302.2 180.4 305.0 94.1 304.4 211.3 305.1 113.5 301.0 71.0 303.4 81.4 306.4 136.6 305.0 62.1 305.1 184.4 306.4 91.5 302.3 112.3 304.3 115.6 304.1 102.7 296.2 124.2 306.3 62.2 306.7 111.6 301.2 67.7 303.7 89.9 304.7 183.5 305.2 125.9 298.5 108.8 303.1 176.9 301.3 61.1 306.0 110.6 297.8 158.8 306.1 73.1 302.8 174.7 306.4 89.2 302.4" fill="none" stroke="none" marker-start="url(#mn)" marker-mid="url(#mn)" marker-end="url(#mn)"/>
<path d="M190.0 305.5 192.0 305.8 195.2 305.7 199.0 305.7 201.5 305.5 203.0 304.5" fill="none" stroke="none" marker-start="url(#mn)" marker-mid="url(#mn)" marker-end="url(#mn)"/>
<circle cx="157.40" cy="236.80" r="1.35" fill="#7a2a88" stroke="#3a0a48" stroke-width="0.55"/>
<circle cx="149.70" cy="237.60" r="1.35" fill="#dc9a2c" stroke="#6a4010" stroke-width="0.55"/>
<circle cx="152.30" cy="237.40" r="1.35" fill="#dc9a2c" stroke="#6a4010" stroke-width="0.55"/>
<circle cx="155.00" cy="237.80" r="1.35" fill="#dc9a2c" stroke="#6a4010" stroke-width="0.55"/>
<circle cx="158.80" cy="241.00" r="1.35" fill="#dc9a2c" stroke="#6a4010" stroke-width="0.55"/>
<circle cx="160.80" cy="241.20" r="1.35" fill="#dc9a2c" stroke="#6a4010" stroke-width="0.55"/>
<circle cx="162.80" cy="241.20" r="1.35" fill="#dc9a2c" stroke="#6a4010" stroke-width="0.55"/>
<circle cx="164.60" cy="241.40" r="1.35" fill="#dc9a2c" stroke="#6a4010" stroke-width="0.55"/>
<circle cx="156.70" cy="242.90" r="1.35" fill="#c8141e" stroke="#5a0810" stroke-width="0.55"/>
<circle cx="158.80" cy="247.70" r="1.35" fill="#34c040" stroke="#156a1c" stroke-width="0.55"/>
<circle cx="163.70" cy="248.70" r="1.35" fill="#c8b070" stroke="#806030" stroke-width="0.55"/>
<circle cx="149.20" cy="250.60" r="1.35" fill="#dc9a2c" stroke="#6a4010" stroke-width="0.55"/>
<circle cx="149.20" cy="253.00" r="1.35" fill="#dc9a2c" stroke="#6a4010" stroke-width="0.55"/>
<circle cx="148.80" cy="259.00" r="1.35" fill="#dc9a2c" stroke="#6a4010" stroke-width="0.55"/>
<circle cx="150.80" cy="258.80" r="1.35" fill="#dc9a2c" stroke="#6a4010" stroke-width="0.55"/>
<circle cx="152.80" cy="258.80" r="1.35" fill="#dc9a2c" stroke="#6a4010" stroke-width="0.55"/>
<circle cx="155.00" cy="259.20" r="1.35" fill="#dc9a2c" stroke="#6a4010" stroke-width="0.55"/>
<circle cx="139.10" cy="261.70" r="1.35" fill="#34c040" stroke="#156a1c" stroke-width="0.55"/>
<circle cx="141.20" cy="261.70" r="1.35" fill="#34c040" stroke="#156a1c" stroke-width="0.55"/>
<circle cx="143.20" cy="261.50" r="1.35" fill="#dc9a2c" stroke="#6a4010" stroke-width="0.55"/>
<circle cx="145.20" cy="261.20" r="1.35" fill="#dc9a2c" stroke="#6a4010" stroke-width="0.55"/>
<circle cx="147.30" cy="260.50" r="1.35" fill="#dc9a2c" stroke="#6a4010" stroke-width="0.55"/>
<circle cx="156.90" cy="261.70" r="1.35" fill="#34c040" stroke="#156a1c" stroke-width="0.55"/>
<circle cx="119.00" cy="265.20" r="1.35" fill="#dc9a2c" stroke="#6a4010" stroke-width="0.55"/>
<circle cx="121.30" cy="262.80" r="1.35" fill="#34c040" stroke="#156a1c" stroke-width="0.55"/>
<circle cx="124.50" cy="269.80" r="1.35" fill="#34c040" stroke="#156a1c" stroke-width="0.55"/>
<circle cx="126.50" cy="269.80" r="1.35" fill="#34c040" stroke="#156a1c" stroke-width="0.55"/>
<circle cx="128.50" cy="269.80" r="1.35" fill="#34c040" stroke="#156a1c" stroke-width="0.55"/>
<circle cx="130.50" cy="269.80" r="1.35" fill="#34c040" stroke="#156a1c" stroke-width="0.55"/>
<circle cx="132.00" cy="269.80" r="1.35" fill="#34c040" stroke="#156a1c" stroke-width="0.55"/>
<circle cx="134.00" cy="269.80" r="1.35" fill="#1a1a6e" stroke="#0b0b3a" stroke-width="0.55"/>
<circle cx="137.40" cy="269.80" r="1.35" fill="#1a1a6e" stroke="#0b0b3a" stroke-width="0.55"/>
<circle cx="142.40" cy="267.50" r="1.35" fill="#92c2e6" stroke="#4f7ca6" stroke-width="0.55"/>
<circle cx="147.20" cy="270.20" r="1.35" fill="#34c040" stroke="#156a1c" stroke-width="0.55"/>
<circle cx="151.50" cy="271.50" r="1.35" fill="#92c2e6" stroke="#4f7ca6" stroke-width="0.55"/>
<circle cx="153.50" cy="271.50" r="1.35" fill="#92c2e6" stroke="#4f7ca6" stroke-width="0.55"/>
<circle cx="155.50" cy="271.30" r="1.35" fill="#92c2e6" stroke="#4f7ca6" stroke-width="0.55"/>
<circle cx="157.30" cy="271.00" r="1.35" fill="#92c2e6" stroke="#4f7ca6" stroke-width="0.55"/>
<circle cx="120.10" cy="274.60" r="1.35" fill="#1a1a6e" stroke="#0b0b3a" stroke-width="0.55"/>
<circle cx="119.00" cy="279.20" r="1.35" fill="#34c040" stroke="#156a1c" stroke-width="0.55"/>
<circle cx="117.20" cy="283.30" r="1.35" fill="#92c2e6" stroke="#4f7ca6" stroke-width="0.55"/>
<circle cx="123.60" cy="282.70" r="1.35" fill="#34c040" stroke="#156a1c" stroke-width="0.55"/>
<circle cx="125.90" cy="285.60" r="1.35" fill="#34c040" stroke="#156a1c" stroke-width="0.55"/>
<circle cx="127.60" cy="285.60" r="1.35" fill="#34c040" stroke="#156a1c" stroke-width="0.55"/>
<circle cx="132.80" cy="285.60" r="1.35" fill="#34c040" stroke="#156a1c" stroke-width="0.55"/>
<circle cx="136.30" cy="280.60" r="1.35" fill="#34c040" stroke="#156a1c" stroke-width="0.55"/>
<circle cx="144.30" cy="276.00" r="1.35" fill="#dc9a2c" stroke="#6a4010" stroke-width="0.55"/>
<circle cx="142.60" cy="278.00" r="1.35" fill="#34c040" stroke="#156a1c" stroke-width="0.55"/>
<circle cx="146.00" cy="279.20" r="1.35" fill="#34c040" stroke="#156a1c" stroke-width="0.55"/>
<circle cx="148.40" cy="278.60" r="1.35" fill="#34c040" stroke="#156a1c" stroke-width="0.55"/>
<circle cx="142.00" cy="281.00" r="1.35" fill="#34c040" stroke="#156a1c" stroke-width="0.55"/>
<circle cx="143.20" cy="285.00" r="1.35" fill="#34c040" stroke="#156a1c" stroke-width="0.55"/>
<circle cx="144.50" cy="279.50" r="1.35" fill="#34c040" stroke="#156a1c" stroke-width="0.55"/>
<circle cx="142.40" cy="284.50" r="1.35" fill="#34c040" stroke="#156a1c" stroke-width="0.55"/>
<circle cx="156.80" cy="283.00" r="1.35" fill="#92c2e6" stroke="#4f7ca6" stroke-width="0.55"/>
<circle cx="156.80" cy="285.50" r="1.35" fill="#92c2e6" stroke="#4f7ca6" stroke-width="0.55"/>
<circle cx="160.20" cy="285.50" r="1.35" fill="#1a1a6e" stroke="#0b0b3a" stroke-width="0.55"/>
<circle cx="162.50" cy="285.50" r="1.35" fill="#1a1a6e" stroke="#0b0b3a" stroke-width="0.55"/>
<circle cx="164.90" cy="285.50" r="1.35" fill="#1a1a6e" stroke="#0b0b3a" stroke-width="0.55"/>
<circle cx="167.20" cy="285.50" r="1.35" fill="#1a1a6e" stroke="#0b0b3a" stroke-width="0.55"/>
<circle cx="121.80" cy="288.40" r="1.35" fill="#34c040" stroke="#156a1c" stroke-width="0.55"/>
<circle cx="118.40" cy="290.20" r="1.35" fill="#92c2e6" stroke="#4f7ca6" stroke-width="0.55"/>
<circle cx="108.00" cy="293.00" r="1.35" fill="#1a1a6e" stroke="#0b0b3a" stroke-width="0.55"/>
<circle cx="110.00" cy="292.50" r="1.35" fill="#1a1a6e" stroke="#0b0b3a" stroke-width="0.55"/>
<circle cx="111.50" cy="293.50" r="1.35" fill="#1a1a6e" stroke="#0b0b3a" stroke-width="0.55"/>
<circle cx="152.00" cy="292.70" r="1.35" fill="#1a1a6e" stroke="#0b0b3a" stroke-width="0.55"/>
<circle cx="165.80" cy="293.70" r="1.35" fill="#1a1a6e" stroke="#0b0b3a" stroke-width="0.55"/>
<circle cx="147.20" cy="294.60" r="1.35" fill="#1a1a6e" stroke="#0b0b3a" stroke-width="0.55"/>
<circle cx="145.80" cy="296.00" r="1.35" fill="#1a1a6e" stroke="#0b0b3a" stroke-width="0.55"/>
<circle cx="172.70" cy="295.60" r="1.35" fill="#92c2e6" stroke="#4f7ca6" stroke-width="0.55"/>
<circle cx="175.00" cy="295.40" r="1.35" fill="#92c2e6" stroke="#4f7ca6" stroke-width="0.55"/>
<circle cx="177.20" cy="295.60" r="1.35" fill="#92c2e6" stroke="#4f7ca6" stroke-width="0.55"/>
<circle cx="179.40" cy="295.80" r="1.35" fill="#92c2e6" stroke="#4f7ca6" stroke-width="0.55"/>
<circle cx="107.30" cy="299.30" r="1.35" fill="#92c2e6" stroke="#4f7ca6" stroke-width="0.55"/>
<circle cx="116.00" cy="299.30" r="1.35" fill="#92c2e6" stroke="#4f7ca6" stroke-width="0.55"/>
<circle cx="117.90" cy="296.40" r="1.35" fill="#92c2e6" stroke="#4f7ca6" stroke-width="0.55"/>
<circle cx="128.50" cy="298.30" r="1.35" fill="#1a1a6e" stroke="#0b0b3a" stroke-width="0.55"/>
<circle cx="132.30" cy="297.90" r="1.35" fill="#1a1a6e" stroke="#0b0b3a" stroke-width="0.55"/>
<text x="140.10" y="232.80" font-size="4.8" text-anchor="start" font-weight="normal" font-style="normal" fill="#222" textLength="31.7" lengthAdjust="spacingAndGlyphs">rs28673647</text>
<rect x="53.80" y="225.80" width="165.20" height="83.90" fill="none" stroke="#000" stroke-width="1.4" />
<line x1="50.60" y1="305.70" x2="53.80" y2="305.70" stroke="#000" stroke-width="1"/>
<text x="47.60" y="307.80" font-size="6.0" text-anchor="end" font-weight="normal" font-style="normal" fill="#333" stroke="#333" stroke-width="0.12">0</text>
<line x1="50.60" y1="292.34" x2="53.80" y2="292.34" stroke="#000" stroke-width="1"/>
<text x="47.60" y="294.44" font-size="6.0" text-anchor="end" font-weight="normal" font-style="normal" fill="#333" stroke="#333" stroke-width="0.12">10</text>
<line x1="50.60" y1="278.98" x2="53.80" y2="278.98" stroke="#000" stroke-width="1"/>
<text x="47.60" y="281.08" font-size="6.0" text-anchor="end" font-weight="normal" font-style="normal" fill="#333" stroke="#333" stroke-width="0.12">20</text>
<line x1="50.60" y1="265.62" x2="53.80" y2="265.62" stroke="#000" stroke-width="1"/>
<text x="47.60" y="267.72" font-size="6.0" text-anchor="end" font-weight="normal" font-style="normal" fill="#333" stroke="#333" stroke-width="0.12">30</text>
<line x1="50.60" y1="252.26" x2="53.80" y2="252.26" stroke="#000" stroke-width="1"/>
<text x="47.60" y="254.36" font-size="6.0" text-anchor="end" font-weight="normal" font-style="normal" fill="#333" stroke="#333" stroke-width="0.12">40</text>
<line x1="50.60" y1="238.90" x2="53.80" y2="238.90" stroke="#000" stroke-width="1"/>
<text x="47.60" y="241.00" font-size="6.0" text-anchor="end" font-weight="normal" font-style="normal" fill="#333" stroke="#333" stroke-width="0.12">50</text>
<line x1="219.00" y1="306.20" x2="222.00" y2="306.20" stroke="#000" stroke-width="1"/>
<text x="225.40" y="308.30" font-size="6.0" text-anchor="start" font-weight="normal" font-style="normal" fill="#555" stroke="#555" stroke-width="0.12">0</text>
<line x1="219.00" y1="291.10" x2="222.00" y2="291.10" stroke="#000" stroke-width="1"/>
<text x="225.40" y="293.20" font-size="6.0" text-anchor="start" font-weight="normal" font-style="normal" fill="#555" stroke="#555" stroke-width="0.12">20</text>
<line x1="219.00" y1="276.00" x2="222.00" y2="276.00" stroke="#000" stroke-width="1"/>
<text x="225.40" y="278.10" font-size="6.0" text-anchor="start" font-weight="normal" font-style="normal" fill="#555" stroke="#555" stroke-width="0.12">40</text>
<line x1="219.00" y1="260.90" x2="222.00" y2="260.90" stroke="#000" stroke-width="1"/>
<text x="225.40" y="263.00" font-size="6.0" text-anchor="start" font-weight="normal" font-style="normal" fill="#555" stroke="#555" stroke-width="0.12">60</text>
<line x1="219.00" y1="245.80" x2="222.00" y2="245.80" stroke="#000" stroke-width="1"/>
<text x="225.40" y="247.90" font-size="6.0" text-anchor="start" font-weight="normal" font-style="normal" fill="#555" stroke="#555" stroke-width="0.12">80</text>
<line x1="219.00" y1="230.70" x2="222.00" y2="230.70" stroke="#000" stroke-width="1"/>
<text x="225.40" y="232.80" font-size="6.0" text-anchor="start" font-weight="normal" font-style="normal" fill="#555" stroke="#555" stroke-width="0.12">100</text>
<rect x="53.80" y="314.50" width="165.20" height="75.40" fill="none" stroke="#000" stroke-width="1.4" />
<line x1="53.80" y1="389.90" x2="53.80" y2="392.90" stroke="#000" stroke-width="1"/>
<text x="53.80" y="401.10" font-size="6.0" text-anchor="middle" font-weight="normal" font-style="normal" fill="#333" stroke="#333" stroke-width="0.12">136</text>
<line x1="86.84" y1="389.90" x2="86.84" y2="392.90" stroke="#000" stroke-width="1"/>
<text x="86.84" y="401.10" font-size="6.0" text-anchor="middle" font-weight="normal" font-style="normal" fill="#333" stroke="#333" stroke-width="0.12">136.1</text>
<line x1="119.88" y1="389.90" x2="119.88" y2="392.90" stroke="#000" stroke-width="1"/>
<text x="119.88" y="401.10" font-size="6.0" text-anchor="middle" font-weight="normal" font-style="normal" fill="#333" stroke="#333" stroke-width="0.12">136.2</text>
<line x1="152.92" y1="389.90" x2="152.92" y2="392.90" stroke="#000" stroke-width="1"/>
<text x="152.92" y="401.10" font-size="6.0" text-anchor="middle" font-weight="normal" font-style="normal" fill="#333" stroke="#333" stroke-width="0.12">136.3</text>
<line x1="185.96" y1="389.90" x2="185.96" y2="392.90" stroke="#000" stroke-width="1"/>
<text x="185.96" y="401.10" font-size="6.0" text-anchor="middle" font-weight="normal" font-style="normal" fill="#333" stroke="#333" stroke-width="0.12">136.4</text>
<line x1="219.00" y1="389.90" x2="219.00" y2="392.90" stroke="#000" stroke-width="1"/>
<text x="219.00" y="401.10" font-size="6.0" text-anchor="middle" font-weight="normal" font-style="normal" fill="#333" stroke="#333" stroke-width="0.12">136.5</text>
<text x="105.80" y="414.10" font-size="9.5" text-anchor="start" font-weight="normal" font-style="normal" fill="#222" textLength="68.2" lengthAdjust="spacingAndGlyphs" stroke="#222" stroke-width="0.4">Position on chr9 (Mb)</text>
<text transform="translate(32.20,268.00) rotate(-90)" font-size="9.3" fill="#222" stroke="#222" stroke-width="0.4" text-anchor="middle" textLength="48.8" lengthAdjust="spacingAndGlyphs">-log<tspan font-size="6.2" dy="1.8">10</tspan><tspan dy="-1.8">(p-value)</tspan></text>
<text transform="translate(241.40,268.30) rotate(90)" font-size="9.3" fill="#464690" stroke="#464690" stroke-width="0.4" text-anchor="middle" textLength="93.5" lengthAdjust="spacingAndGlyphs">Recombination rate (cM/Mb)</text>
<rect x="56.30" y="234.70" width="5.20" height="5.50" fill="#e8141c" stroke="none" stroke-width="1" />
<rect x="56.30" y="240.20" width="5.20" height="5.50" fill="#f5a020" stroke="none" stroke-width="1" />
<rect x="56.30" y="245.70" width="5.20" height="5.50" fill="#2ccf3a" stroke="none" stroke-width="1" />
<rect x="56.30" y="251.20" width="5.20" height="5.50" fill="#8cc8f0" stroke="none" stroke-width="1" />
<rect x="56.30" y="256.70" width="5.20" height="5.50" fill="#0a0a50" stroke="none" stroke-width="1" />
<text x="64.70" y="241.70" font-size="4.4" text-anchor="start" font-weight="normal" font-style="normal" fill="#222" stroke="#222" stroke-width="0.12">0.8</text>
<text x="64.70" y="247.20" font-size="4.4" text-anchor="start" font-weight="normal" font-style="normal" fill="#222" stroke="#222" stroke-width="0.12">0.6</text>
<text x="64.70" y="252.70" font-size="4.4" text-anchor="start" font-weight="normal" font-style="normal" fill="#222" stroke="#222" stroke-width="0.12">0.4</text>
<text x="64.70" y="258.20" font-size="4.4" text-anchor="start" font-weight="normal" font-style="normal" fill="#222" stroke="#222" stroke-width="0.12">0.2</text>
<text x="62.50" y="233.20" font-size="5" font-style="italic" fill="#333">r<tspan font-size="3.4" dy="-2">2</tspan></text>
<text x="54.70" y="320.30" font-size="4.9" text-anchor="start" font-weight="normal" font-style="italic" fill="#333" textLength="22.50" lengthAdjust="spacingAndGlyphs">&lt;-RALGDS</text>
<rect x="54.70" y="321.00" width="7.50" height="1.00" fill="#2a3a8a" stroke="none" stroke-width="1" />
<text x="94.00" y="320.30" font-size="4.9" text-anchor="start" font-weight="normal" font-style="italic" fill="#333" textLength="15.00" lengthAdjust="spacingAndGlyphs">&lt;-ABO</text>
<rect x="96.20" y="321.00" width="7.50" height="1.00" fill="#2a3a8a" stroke="none" stroke-width="1" />
<text x="111.30" y="320.30" font-size="4.9" text-anchor="start" font-weight="normal" font-style="italic" fill="#333" textLength="35.20" lengthAdjust="spacingAndGlyphs">&lt;-SURF6&lt;-C9orf96</text>
<rect x="122.00" y="321.00" width="2.00" height="1.00" fill="#2a3a8a" stroke="none" stroke-width="1" />
<rect x="134.40" y="321.00" width="9.20" height="1.00" fill="#2a3a8a" stroke="none" stroke-width="1" />
<text x="151.00" y="320.30" font-size="4.9" text-anchor="start" font-weight="normal" font-style="italic" fill="#333" textLength="22.90" lengthAdjust="spacingAndGlyphs">CACFD1-&gt;</text>
<rect x="159.00" y="321.00" width="4.00" height="1.00" fill="#2a3a8a" stroke="none" stroke-width="1" />
<text x="174.80" y="320.30" font-size="4.9" text-anchor="start" font-weight="normal" font-style="italic" fill="#333" textLength="29.20" lengthAdjust="spacingAndGlyphs">ADAMTSL2-&gt;</text>
<rect x="183.00" y="321.00" width="14.00" height="1.00" fill="#2a3a8a" stroke="none" stroke-width="1" />
<text x="56.50" y="327.70" font-size="4.9" text-anchor="start" font-weight="normal" font-style="italic" fill="#333" textLength="19.50" lengthAdjust="spacingAndGlyphs">&lt;-GBGT1</text>
<rect x="64.50" y="328.40" width="2.30" height="1.00" fill="#2a3a8a" stroke="none" stroke-width="1" />
<text x="114.80" y="327.70" font-size="4.9" text-anchor="start" font-weight="normal" font-style="italic" fill="#333" textLength="21.20" lengthAdjust="spacingAndGlyphs">&lt;-MED22</text>
<rect x="120.50" y="328.40" width="1.50" height="1.00" fill="#2a3a8a" stroke="none" stroke-width="1" />
<text x="137.30" y="327.70" font-size="4.9" text-anchor="start" font-weight="normal" font-style="italic" fill="#333" textLength="41.10" lengthAdjust="spacingAndGlyphs">&lt;-REXO4&lt;-SLC2A6</text>
<rect x="146.00" y="328.40" width="3.00" height="1.00" fill="#2a3a8a" stroke="none" stroke-width="1" />
<rect x="163.00" y="328.40" width="2.00" height="1.00" fill="#2a3a8a" stroke="none" stroke-width="1" />
<text x="190.30" y="327.70" font-size="4.9" text-anchor="start" font-weight="normal" font-style="italic" fill="#333" textLength="24.70" lengthAdjust="spacingAndGlyphs">&lt;-FAM163B</text>
<rect x="205.00" y="328.40" width="1.50" height="1.00" fill="#2a3a8a" stroke="none" stroke-width="1" />
<text x="73.20" y="335.10" font-size="4.9" text-anchor="start" font-weight="normal" font-style="italic" fill="#333" textLength="20.20" lengthAdjust="spacingAndGlyphs">&lt;-OBP2B</text>
<rect x="80.20" y="335.80" width="1.20" height="1.00" fill="#2a3a8a" stroke="none" stroke-width="1" />
<text x="114.20" y="335.10" font-size="4.9" text-anchor="start" font-weight="normal" font-style="italic" fill="#333" textLength="18.50" lengthAdjust="spacingAndGlyphs">RPL7A-&gt;</text>
<rect x="124.00" y="335.80" width="1.20" height="1.00" fill="#2a3a8a" stroke="none" stroke-width="1" />
<text x="137.30" y="335.10" font-size="4.9" text-anchor="start" font-weight="normal" font-style="italic" fill="#333" textLength="28.30" lengthAdjust="spacingAndGlyphs">ADAMTS13-&gt;</text>
<rect x="146.00" y="335.80" width="14.00" height="1.00" fill="#2a3a8a" stroke="none" stroke-width="1" />
<text x="171.00" y="335.10" font-size="4.9" text-anchor="start" font-weight="normal" font-style="italic" fill="#333" textLength="24.00" lengthAdjust="spacingAndGlyphs">&lt;-TMEM8C</text>
<rect x="180.00" y="335.80" width="3.00" height="1.00" fill="#2a3a8a" stroke="none" stroke-width="1" />
<text x="109.00" y="342.50" font-size="4.9" text-anchor="start" font-weight="normal" font-style="italic" fill="#333" textLength="26.00" lengthAdjust="spacingAndGlyphs">SNORD24-&gt;</text>
<text x="107.00" y="349.70" font-size="4.9" text-anchor="start" font-weight="normal" font-style="italic" fill="#333" textLength="31.00" lengthAdjust="spacingAndGlyphs">SNORD36B-&gt;</text>
<text x="107.00" y="357.00" font-size="4.9" text-anchor="start" font-weight="normal" font-style="italic" fill="#333" textLength="31.00" lengthAdjust="spacingAndGlyphs">SNORD36A-&gt;</text>
<text x="108.00" y="364.10" font-size="4.9" text-anchor="start" font-weight="normal" font-style="italic" fill="#333" textLength="31.00" lengthAdjust="spacingAndGlyphs">SNORD36C-&gt;</text>
<text x="117.50" y="371.70" font-size="4.9" text-anchor="start" font-weight="normal" font-style="italic" fill="#333" textLength="20.50" lengthAdjust="spacingAndGlyphs">&lt;-SURF1</text>
<rect x="125.50" y="372.40" width="2.00" height="1.00" fill="#2a3a8a" stroke="none" stroke-width="1" />
<text x="116.60" y="378.90" font-size="4.9" text-anchor="start" font-weight="normal" font-style="italic" fill="#333" textLength="19.90" lengthAdjust="spacingAndGlyphs">SURF2-&gt;</text>
<rect x="124.50" y="379.60" width="1.20" height="1.00" fill="#2a3a8a" stroke="none" stroke-width="1" />
<text x="122.70" y="386.20" font-size="4.9" text-anchor="start" font-weight="normal" font-style="italic" fill="#333" textLength="17.30" lengthAdjust="spacingAndGlyphs">&lt;-SURF4</text>
<rect x="128.00" y="386.90" width="6.00" height="1.00" fill="#2a3a8a" stroke="none" stroke-width="1" />
<text x="267.20" y="220.60" font-size="5.5" text-anchor="start" font-weight="normal" font-style="normal" fill="#222" textLength="33" lengthAdjust="spacingAndGlyphs" stroke="#222" stroke-width="0.12">Plotted SNPs</text>
<rect x="302.40" y="217.00" width="138.10" height="3.30" fill="#000"/>
<rect x="303.85" y="217.00" width="0.68" height="3.30" fill="#fff" opacity="0.42"/>
<rect x="307.03" y="217.00" width="0.33" height="3.30" fill="#fff" opacity="0.49"/>
<rect x="311.02" y="217.00" width="0.38" height="3.30" fill="#fff" opacity="0.70"/>
<rect x="313.51" y="217.00" width="0.48" height="3.30" fill="#fff" opacity="0.62"/>
<rect x="315.25" y="217.00" width="0.63" height="3.30" fill="#fff" opacity="0.40"/>
<rect x="317.10" y="217.00" width="0.31" height="3.30" fill="#fff" opacity="0.50"/>
<rect x="319.45" y="217.00" width="0.66" height="3.30" fill="#fff" opacity="0.56"/>
<rect x="320.96" y="217.00" width="0.40" height="3.30" fill="#fff" opacity="0.90"/>
<rect x="322.34" y="217.00" width="0.55" height="3.30" fill="#fff" opacity="0.56"/>
<rect x="325.39" y="217.00" width="0.44" height="3.30" fill="#fff" opacity="0.73"/>
<rect x="327.98" y="217.00" width="0.56" height="3.30" fill="#fff" opacity="0.85"/>
<rect x="330.81" y="217.00" width="0.36" height="3.30" fill="#fff" opacity="0.39"/>
<rect x="334.66" y="217.00" width="0.50" height="3.30" fill="#fff" opacity="0.46"/>
<rect x="338.51" y="217.00" width="0.53" height="3.30" fill="#fff" opacity="0.75"/>
<rect x="342.18" y="217.00" width="0.41" height="3.30" fill="#fff" opacity="0.55"/>
<rect x="345.84" y="217.00" width="0.35" height="3.30" fill="#fff" opacity="0.77"/>
<rect x="347.31" y="217.00" width="0.58" height="3.30" fill="#fff" opacity="0.74"/>
<rect x="351.17" y="217.00" width="0.64" height="3.30" fill="#fff" opacity="0.63"/>
<rect x="352.92" y="217.00" width="0.36" height="3.30" fill="#fff" opacity="0.64"/>
<rect x="355.55" y="217.00" width="0.33" height="3.30" fill="#fff" opacity="0.85"/>
<rect x="358.17" y="217.00" width="0.58" height="3.30" fill="#fff" opacity="0.47"/>
<rect x="360.05" y="217.00" width="0.30" height="3.30" fill="#fff" opacity="0.54"/>
<rect x="362.00" y="217.00" width="0.47" height="3.30" fill="#fff" opacity="0.56"/>
<rect x="365.54" y="217.00" width="0.66" height="3.30" fill="#fff" opacity="0.45"/>
<rect x="367.85" y="217.00" width="0.37" height="3.30" fill="#fff" opacity="0.71"/>
<rect x="371.78" y="217.00" width="0.38" height="3.30" fill="#fff" opacity="0.77"/>
<rect x="373.82" y="217.00" width="0.31" height="3.30" fill="#fff" opacity="0.77"/>
<rect x="375.97" y="217.00" width="0.37" height="3.30" fill="#fff" opacity="0.59"/>
<rect x="377.82" y="217.00" width="0.46" height="3.30" fill="#fff" opacity="0.60"/>
<rect x="380.19" y="217.00" width="0.54" height="3.30" fill="#fff" opacity="0.51"/>
<rect x="381.66" y="217.00" width="0.33" height="3.30" fill="#fff" opacity="0.41"/>
<rect x="384.32" y="217.00" width="0.44" height="3.30" fill="#fff" opacity="0.79"/>
<rect x="386.93" y="217.00" width="0.58" height="3.30" fill="#fff" opacity="0.89"/>
<rect x="388.31" y="217.00" width="0.31" height="3.30" fill="#fff" opacity="0.43"/>
<rect x="390.59" y="217.00" width="0.53" height="3.30" fill="#fff" opacity="0.76"/>
<rect x="392.77" y="217.00" width="0.69" height="3.30" fill="#fff" opacity="0.35"/>
<rect x="396.31" y="217.00" width="0.38" height="3.30" fill="#fff" opacity="0.83"/>
<rect x="397.61" y="217.00" width="0.69" height="3.30" fill="#fff" opacity="0.77"/>
<rect x="401.58" y="217.00" width="0.53" height="3.30" fill="#fff" opacity="0.45"/>
<rect x="405.49" y="217.00" width="0.48" height="3.30" fill="#fff" opacity="0.40"/>
<rect x="408.39" y="217.00" width="0.50" height="3.30" fill="#fff" opacity="0.61"/>
<rect x="410.02" y="217.00" width="0.35" height="3.30" fill="#fff" opacity="0.67"/>
<rect x="412.49" y="217.00" width="0.35" height="3.30" fill="#fff" opacity="0.59"/>
<rect x="415.72" y="217.00" width="0.59" height="3.30" fill="#fff" opacity="0.61"/>
<rect x="418.02" y="217.00" width="0.44" height="3.30" fill="#fff" opacity="0.47"/>
<rect x="419.78" y="217.00" width="0.48" height="3.30" fill="#fff" opacity="0.41"/>
<rect x="423.01" y="217.00" width="0.58" height="3.30" fill="#fff" opacity="0.69"/>
<rect x="424.27" y="217.00" width="0.45" height="3.30" fill="#fff" opacity="0.59"/>
<rect x="425.73" y="217.00" width="0.69" height="3.30" fill="#fff" opacity="0.77"/>
<rect x="428.34" y="217.00" width="0.58" height="3.30" fill="#fff" opacity="0.46"/>
<rect x="430.18" y="217.00" width="0.51" height="3.30" fill="#fff" opacity="0.76"/>
<rect x="433.19" y="217.00" width="0.30" height="3.30" fill="#fff" opacity="0.69"/>
<rect x="436.94" y="217.00" width="0.60" height="3.30" fill="#fff" opacity="0.86"/>
<rect x="450.80" y="217.00" width="16.00" height="3.30" fill="#000"/>
<rect x="452.25" y="217.00" width="0.42" height="3.30" fill="#fff" opacity="0.65"/>
<rect x="456.18" y="217.00" width="0.45" height="3.30" fill="#fff" opacity="0.87"/>
<rect x="459.76" y="217.00" width="0.51" height="3.30" fill="#fff" opacity="0.69"/>
<rect x="463.64" y="217.00" width="0.61" height="3.30" fill="#fff" opacity="0.51"/>
<rect x="443.70" y="217.00" width="0.5" height="3.30" fill="#333"/>
<rect x="446.20" y="217.00" width="0.5" height="3.30" fill="#333"/>
<polyline points="303.20,306.30 308.80,306.30 309.40,299.60 312.20,299.60 313.00,306.20 314.80,306.20 315.30,265.50 316.00,265.50 316.60,306.20 339.00,306.20 339.20,300.00 339.50,306.20 438.80,306.20 439.30,302.70 462.40,302.70 462.90,262.50 463.90,262.50 464.50,305.50 466.20,305.50" fill="none" stroke="#6d6dd8" stroke-width="1" stroke-linejoin="round"/>
<path d="M458.6 303.2 405.0 299.6 316.4 302.0 451.8 305.0 465.3 306.2 379.0 303.9 414.1 297.6 421.0 297.4 331.5 303.3 355.1 302.0 340.8 306.6 372.4 307.0 330.2 306.6 345.8 303.9 359.5 304.6 346.7 306.1 410.3 306.5 427.4 303.4 435.7 305.4 357.6 306.9 312.0 304.8 374.6 300.7 431.7 302.9 455.8 306.9 316.6 301.3 343.7 302.5 459.2 304.8 391.2 306.7 355.8 304.6 387.5 304.5 392.2 301.3 353.9 304.8 397.9 307.0 411.0 296.2 416.1 305.2 364.5 303.2 409.6 306.5 388.7 305.3 376.9 305.4 325.1 304.8 320.6 306.4 407.5 301.9 364.1 306.6 464.9 303.3 365.1 303.0 385.1 298.4 370.9 300.2 411.0 306.2 380.3 305.2 424.7 297.6 437.0 303.6 398.5 304.9 413.7 300.4 340.4 305.3 409.2 305.4 419.2 299.6 328.9 303.6 426.2 301.3 349.5 306.9 406.8 306.1 413.8 306.4 346.3 301.8 429.6 302.6 371.2 306.3 361.8 303.3 419.6 302.9 429.7 306.3 348.7 302.2 378.2 303.2 347.2 301.3 464.9 305.4 332.2 306.2 319.3 300.1 406.2 304.6 311.7 306.0 464.0 300.4 340.0 305.4 424.3 300.7 375.6 303.0 374.7 301.3 347.1 305.0 360.2 300.7 395.0 302.5 461.7 302.9 408.8 298.3 400.0 299.2 431.6 301.1 433.4 304.7 310.6 305.3 323.7 306.4 381.6 306.8 320.0 303.3 415.9 301.9 350.1 303.5 373.4 302.7 403.0 300.3 335.8 303.2 389.1 302.0 372.3 301.1 322.2 304.9 384.6 303.2 318.3 301.3 304.4 306.3 358.8 306.2 367.2 304.6 376.8 298.5 421.8 302.2 416.6 303.6 392.9 297.9 306.1 303.3 452.6 305.3 389.9 305.0 457.3 306.5 328.9 306.8 409.7 303.0 399.7 305.0 366.3 306.2 352.1 303.3 427.8 306.5 306.4 306.5 404.3 305.4 397.6 305.0 355.1 303.4 367.5 306.4 379.7 307.0 421.7 305.2 392.8 302.1 418.6 303.6 397.6 302.4 416.2 304.2 367.4 303.2 334.9 303.2 347.7 306.5 421.7 303.6 334.9 305.0 344.9 303.9 319.1 301.5 344.2 302.1 403.8 306.5 407.2 303.6 309.8 303.4 354.9 304.6 392.0 304.8 407.7 300.4 338.6 304.2 321.8 301.9 451.8 306.8 409.5 300.2 364.9 306.6 452.9 301.6 417.5 306.7 393.5 303.7 396.5 302.0 304.0 304.2 320.4 301.0 403.8 301.6 332.3 301.8 333.1 306.1 454.4 306.3 424.2 302.5 363.1 304.6 304.5 304.4 391.3 305.1 359.4 303.4 400.6 303.1 424.1 306.8 311.2 305.1 359.8 300.8 401.1 304.4 382.9 301.5 326.1 302.8 414.4 304.3 463.9 303.2 406.0 299.3 432.0 305.1 420.9 300.4 437.0 301.7 396.8 303.0 377.7 306.2 369.8 302.3 330.0 302.2 409.5 301.6 332.6 305.1 400.1 298.4 309.4 306.4 348.7 305.1 428.6 302.0 459.5 306.1 317.9 304.8 458.4 301.5 412.7 306.6 326.6 305.5 345.7 304.7 354.0 298.1 456.5 303.2 375.6 304.9 372.8 303.1 404.7 304.6 361.4 304.4 327.6 300.9 425.2 305.3 404.6 294.4 368.4 303.4 316.0 304.7 404.3 298.0 320.9 306.6 380.4 303.5 427.9 305.3 404.1 300.0 331.7 306.9 371.3 302.6 379.1 304.7 388.4 299.4 394.6 306.6 349.6 306.1 383.9 304.4 368.5 300.3 348.9 300.6 343.7 299.4 327.8 305.1 356.1 302.8 421.1 301.5 316.3 306.4 429.0 303.2 348.9 297.3 464.7 304.9 314.6 306.3 404.7 301.5 376.6 303.3 423.3 306.6 405.4 303.9 426.9 299.9 393.0 299.5 402.3 306.3 306.9 304.5 387.8 306.9 461.9 306.9 432.2 303.4 335.2 306.5 384.4 306.5 327.2 306.2 361.2 306.6 432.5 306.6 414.5 301.8 340.0 306.0 465.4 302.0 412.7 303.3 395.2 298.9 365.3 304.2 429.1 306.8 381.3 305.5 389.0 302.9 322.2 303.6 309.3 304.9 425.4 302.9 342.6 303.1 312.2 303.1 451.3 303.1 375.5 299.5 432.1 306.3 384.9 306.8 343.4 306.5 405.0 306.5 433.2 301.9 337.1 306.3 432.9 300.3 408.8 295.8 341.9 299.8 346.6 305.3 420.4 304.8 405.4 296.1 318.9 305.1 378.3 304.5 413.2 301.7 429.5 300.9 413.7 303.4 389.3 298.8 425.1 303.3 350.0 298.9 417.0 301.2 343.4 301.3 420.0 297.6 455.0 302.4 408.2 302.1 391.7 299.4 403.8 306.7 319.5 303.1 400.6 306.4 315.5 306.5 342.3 305.5 432.6 302.9 459.8 304.9 380.7 301.6 308.9 302.7 452.3 303.3 396.1 307.0 419.1 306.6 344.1 305.4 452.6 306.3 388.1 306.3 322.6 306.5 407.0 298.7 347.6 302.9 343.2 304.8 345.0 306.9 406.3 303.2 383.7 298.1 412.9 301.2 397.3 304.8 369.9 306.6 454.3 303.2 372.6 300.6 403.7 301.8 353.9 301.5 314.5 303.7 390.4 299.2 354.7 298.7 366.4 304.5 351.6 305.2 406.3 293.5 437.9 299.6 426.8 306.5 373.7 306.3 355.7 304.6 350.0 304.6 428.4 304.3 423.5 302.8 348.1 304.9 315.0 303.7 418.7 301.8 386.3 305.0 366.2 302.8 333.4 303.4 413.9 304.7 420.6 302.8 315.7 303.6 460.5 306.2 455.0 304.5 430.6 303.7 353.9 306.4 381.5 301.0 374.8 307.0 436.0 303.8 382.9 304.9 408.3 303.3 426.5 302.6 325.3 306.4 407.5 304.9 397.3 306.3 451.0 306.6 411.2 304.8 352.6 306.1 412.6 304.9 317.9 306.5 323.9 304.7 351.3 306.3 307.7 307.0 434.0 306.3 338.7 302.3 417.2 304.4 387.1 302.2 418.1 306.2 362.9 307.0 409.5 296.3 388.8 302.1 430.3 304.6 424.0 305.0 382.5 306.1 434.4 304.8 359.7 306.7 308.9 306.1 312.9 306.7 415.6 306.3 340.6 304.0 329.6 303.6 415.8 300.8 316.5 306.9 427.5 299.9 406.3 301.7 390.8 302.8 317.7 303.4 376.6 299.8 341.9 306.3 375.9 297.9 330.4 304.7 406.3 297.1 348.4 301.0 316.5 304.9 398.5 306.6 383.0 303.5 314.8 305.4 425.6 304.5 409.6 301.6 393.3 307.0 395.1 304.8 461.7 304.4 464.5 306.7 410.2 304.7 373.9 297.4 342.3 301.7 419.5 302.2 316.8 299.6 342.3 297.9 328.3 305.6 413.9 298.4 380.3 306.5 375.6 306.1 401.0 299.2 437.7 303.2 385.4 304.6 356.7 304.7 371.3 304.6 337.0 304.3 335.3 304.4 403.4 304.0 340.6 303.6 436.3 306.7 358.6 304.9 322.2 306.1 409.5 303.1 402.2 302.6 341.4 304.9 399.3 302.2 421.5 306.6 401.9 304.2 430.1 304.8 437.9 306.1 351.3 302.7 415.1 303.3 408.3 306.5 395.8 303.0 356.2 301.0 437.9 304.9 459.2 306.0 397.1 299.0 350.0 297.3 457.5 301.8 348.6 306.3 408.0 300.0 404.4 303.7 353.9 300.1 401.3 302.9 320.6 304.7 424.7 300.7 457.6 303.4 414.8 298.4 338.4 306.9 428.7 299.5 340.5 306.0 368.7 306.8 336.5 302.3 393.7 304.5 386.8 302.3 336.2 301.3 325.0 303.5 398.4 300.4 344.6 306.4 425.0 306.3 386.3 306.4 353.8 302.7 349.3 303.0 421.4 300.1 412.7 300.1 430.8 300.4 319.0 306.8 317.2 303.5 377.0 306.3 453.9 304.3 340.0 302.1 392.5 306.5 416.7 298.5 407.1 296.7 369.7 300.1 389.6 306.0 355.5 306.8 321.0 304.8 394.3 304.6 357.9 302.0 436.2 304.2 402.8 304.7 404.0 293.6 417.7 304.7 408.5 292.6 410.8 303.3 368.5 305.3 360.1 306.8 336.5 305.5 456.5 304.8 462.7 305.0 335.6 306.8 363.9 304.9 405.9 306.1 435.5 306.1 458.0 304.7 430.9 302.0 359.9 301.6 313.4 304.6 414.3 299.9 315.2 305.2 401.1 306.9 414.9 306.1 346.8 304.3 323.0 304.8" fill="none" stroke="none" marker-start="url(#mn)" marker-mid="url(#mn)" marker-end="url(#mn)"/>
<path d="M363.7 297.4 371.0 298.4 380.0 297.0 442.0 305.3 445.5 305.5 448.5 305.3 405.0 293.0 407.5 292.3 406.0 295.5 318.2 299.5 345.0 298.5 350.0 299.0" fill="none" stroke="none" marker-start="url(#mn)" marker-mid="url(#mn)" marker-end="url(#mn)"/>
<circle cx="370.00" cy="300.30" r="1.3" fill="#92c2e6" stroke="#4f7ca6" stroke-width="0.55"/>
<circle cx="372.50" cy="300.60" r="1.3" fill="#92c2e6" stroke="#4f7ca6" stroke-width="0.55"/>
<circle cx="375.00" cy="300.30" r="1.3" fill="#92c2e6" stroke="#4f7ca6" stroke-width="0.55"/>
<circle cx="377.50" cy="300.80" r="1.3" fill="#92c2e6" stroke="#4f7ca6" stroke-width="0.55"/>
<circle cx="380.00" cy="300.30" r="1.3" fill="#92c2e6" stroke="#4f7ca6" stroke-width="0.55"/>
<circle cx="383.00" cy="300.80" r="1.3" fill="#92c2e6" stroke="#4f7ca6" stroke-width="0.55"/>
<circle cx="385.00" cy="300.30" r="1.3" fill="#92c2e6" stroke="#4f7ca6" stroke-width="0.55"/>
<circle cx="381.00" cy="301.20" r="1.3" fill="#92c2e6" stroke="#4f7ca6" stroke-width="0.55"/>
<circle cx="388.00" cy="301.00" r="1.3" fill="#92c2e6" stroke="#4f7ca6" stroke-width="0.55"/>
<circle cx="392.00" cy="301.20" r="1.3" fill="#92c2e6" stroke="#4f7ca6" stroke-width="0.55"/>
<circle cx="396.00" cy="301.00" r="1.3" fill="#92c2e6" stroke="#4f7ca6" stroke-width="0.55"/>
<circle cx="400.00" cy="301.50" r="1.3" fill="#92c2e6" stroke="#4f7ca6" stroke-width="0.55"/>
<circle cx="411.00" cy="300.50" r="1.3" fill="#92c2e6" stroke="#4f7ca6" stroke-width="0.55"/>
<circle cx="382.10" cy="244.10" r="1.3" fill="#1a1a6e" stroke="#0b0b3a" stroke-width="0.55"/>
<circle cx="384.40" cy="244.10" r="1.3" fill="#7a2a88" stroke="#3a0a48" stroke-width="0.55"/>
<circle cx="386.10" cy="244.10" r="1.3" fill="#c8141e" stroke="#5a0810" stroke-width="0.55"/>
<circle cx="367.70" cy="258.80" r="1.3" fill="#c8141e" stroke="#5a0810" stroke-width="0.55"/>
<circle cx="366.00" cy="264.60" r="1.3" fill="#dc9a2c" stroke="#6a4010" stroke-width="0.55"/>
<text x="355.20" y="241.00" font-size="5.0" text-anchor="start" font-weight="normal" font-style="normal" fill="#222" textLength="60.9" lengthAdjust="spacingAndGlyphs">rs3739893 rs28407036</text>
<text x="386.60" y="246.00" font-size="5.0" text-anchor="start" font-weight="normal" font-style="normal" fill="#222" textLength="29.4" lengthAdjust="spacingAndGlyphs">rs8181039</text>
<text x="368.60" y="260.50" font-size="5.0" text-anchor="start" font-weight="normal" font-style="normal" fill="#222" textLength="32.9" lengthAdjust="spacingAndGlyphs">rs11244090</text>
<text x="367.10" y="266.10" font-size="5.0" text-anchor="start" font-weight="normal" font-style="normal" fill="#222" textLength="29.4" lengthAdjust="spacingAndGlyphs">rs4962130</text>
<rect x="302.50" y="225.60" width="164.40" height="84.10" fill="none" stroke="#000" stroke-width="1.4" />
<line x1="299.30" y1="305.70" x2="302.50" y2="305.70" stroke="#000" stroke-width="1"/>
<text x="296.30" y="307.80" font-size="6.0" text-anchor="end" font-weight="normal" font-style="normal" fill="#333" stroke="#333" stroke-width="0.12">0</text>
<line x1="299.30" y1="293.08" x2="302.50" y2="293.08" stroke="#000" stroke-width="1"/>
<text x="296.30" y="295.19" font-size="6.0" text-anchor="end" font-weight="normal" font-style="normal" fill="#333" stroke="#333" stroke-width="0.12">5</text>
<line x1="299.30" y1="280.47" x2="302.50" y2="280.47" stroke="#000" stroke-width="1"/>
<text x="296.30" y="282.57" font-size="6.0" text-anchor="end" font-weight="normal" font-style="normal" fill="#333" stroke="#333" stroke-width="0.12">10</text>
<line x1="299.30" y1="267.86" x2="302.50" y2="267.86" stroke="#000" stroke-width="1"/>
<text x="296.30" y="269.96" font-size="6.0" text-anchor="end" font-weight="normal" font-style="normal" fill="#333" stroke="#333" stroke-width="0.12">15</text>
<line x1="299.30" y1="255.24" x2="302.50" y2="255.24" stroke="#000" stroke-width="1"/>
<text x="296.30" y="257.34" font-size="6.0" text-anchor="end" font-weight="normal" font-style="normal" fill="#333" stroke="#333" stroke-width="0.12">20</text>
<line x1="299.30" y1="242.62" x2="302.50" y2="242.62" stroke="#000" stroke-width="1"/>
<text x="296.30" y="244.72" font-size="6.0" text-anchor="end" font-weight="normal" font-style="normal" fill="#333" stroke="#333" stroke-width="0.12">25</text>
<line x1="299.30" y1="230.01" x2="302.50" y2="230.01" stroke="#000" stroke-width="1"/>
<text x="296.30" y="232.11" font-size="6.0" text-anchor="end" font-weight="normal" font-style="normal" fill="#333" stroke="#333" stroke-width="0.12">30</text>
<line x1="466.90" y1="306.20" x2="469.90" y2="306.20" stroke="#000" stroke-width="1"/>
<text x="473.30" y="308.30" font-size="6.0" text-anchor="start" font-weight="normal" font-style="normal" fill="#555" stroke="#555" stroke-width="0.12">0</text>
<line x1="466.90" y1="291.10" x2="469.90" y2="291.10" stroke="#000" stroke-width="1"/>
<text x="473.30" y="293.20" font-size="6.0" text-anchor="start" font-weight="normal" font-style="normal" fill="#555" stroke="#555" stroke-width="0.12">20</text>
<line x1="466.90" y1="276.00" x2="469.90" y2="276.00" stroke="#000" stroke-width="1"/>
<text x="473.30" y="278.10" font-size="6.0" text-anchor="start" font-weight="normal" font-style="normal" fill="#555" stroke="#555" stroke-width="0.12">40</text>
<line x1="466.90" y1="260.90" x2="469.90" y2="260.90" stroke="#000" stroke-width="1"/>
<text x="473.30" y="263.00" font-size="6.0" text-anchor="start" font-weight="normal" font-style="normal" fill="#555" stroke="#555" stroke-width="0.12">60</text>
<line x1="466.90" y1="245.80" x2="469.90" y2="245.80" stroke="#000" stroke-width="1"/>
<text x="473.30" y="247.90" font-size="6.0" text-anchor="start" font-weight="normal" font-style="normal" fill="#555" stroke="#555" stroke-width="0.12">80</text>
<line x1="466.90" y1="230.70" x2="469.90" y2="230.70" stroke="#000" stroke-width="1"/>
<text x="473.30" y="232.80" font-size="6.0" text-anchor="start" font-weight="normal" font-style="normal" fill="#555" stroke="#555" stroke-width="0.12">100</text>
<rect x="302.50" y="314.50" width="164.40" height="75.40" fill="none" stroke="#000" stroke-width="1.4" />
<line x1="302.50" y1="389.90" x2="302.50" y2="392.90" stroke="#000" stroke-width="1"/>
<text x="302.50" y="401.10" font-size="6.0" text-anchor="middle" font-weight="normal" font-style="normal" fill="#333" stroke="#333" stroke-width="0.12">136</text>
<line x1="335.38" y1="389.90" x2="335.38" y2="392.90" stroke="#000" stroke-width="1"/>
<text x="335.38" y="401.10" font-size="6.0" text-anchor="middle" font-weight="normal" font-style="normal" fill="#333" stroke="#333" stroke-width="0.12">136.1</text>
<line x1="368.26" y1="389.90" x2="368.26" y2="392.90" stroke="#000" stroke-width="1"/>
<text x="368.26" y="401.10" font-size="6.0" text-anchor="middle" font-weight="normal" font-style="normal" fill="#333" stroke="#333" stroke-width="0.12">136.2</text>
<line x1="401.14" y1="389.90" x2="401.14" y2="392.90" stroke="#000" stroke-width="1"/>
<text x="401.14" y="401.10" font-size="6.0" text-anchor="middle" font-weight="normal" font-style="normal" fill="#333" stroke="#333" stroke-width="0.12">136.3</text>
<line x1="434.02" y1="389.90" x2="434.02" y2="392.90" stroke="#000" stroke-width="1"/>
<text x="434.02" y="401.10" font-size="6.0" text-anchor="middle" font-weight="normal" font-style="normal" fill="#333" stroke="#333" stroke-width="0.12">136.4</text>
<line x1="466.90" y1="389.90" x2="466.90" y2="392.90" stroke="#000" stroke-width="1"/>
<text x="466.90" y="401.10" font-size="6.0" text-anchor="middle" font-weight="normal" font-style="normal" fill="#333" stroke="#333" stroke-width="0.12">136.5</text>
<text x="354.50" y="414.10" font-size="9.5" text-anchor="start" font-weight="normal" font-style="normal" fill="#222" textLength="68.2" lengthAdjust="spacingAndGlyphs" stroke="#222" stroke-width="0.4">Position on chr9 (Mb)</text>
<text transform="translate(280.60,268.00) rotate(-90)" font-size="9.3" fill="#222" stroke="#222" stroke-width="0.4" text-anchor="middle" textLength="48.8" lengthAdjust="spacingAndGlyphs">-log<tspan font-size="6.2" dy="1.8">10</tspan><tspan dy="-1.8">(p-value)</tspan></text>
<text transform="translate(488.70,268.30) rotate(90)" font-size="9.3" fill="#464690" stroke="#464690" stroke-width="0.4" text-anchor="middle" textLength="93.5" lengthAdjust="spacingAndGlyphs">Recombination rate (cM/Mb)</text>
<rect x="449.80" y="234.70" width="5.20" height="5.50" fill="#e8141c" stroke="none" stroke-width="1" />
<rect x="449.80" y="240.20" width="5.20" height="5.50" fill="#f5a020" stroke="none" stroke-width="1" />
<rect x="449.80" y="245.70" width="5.20" height="5.50" fill="#2ccf3a" stroke="none" stroke-width="1" />
<rect x="449.80" y="251.20" width="5.20" height="5.50" fill="#8cc8f0" stroke="none" stroke-width="1" />
<rect x="449.80" y="256.70" width="5.20" height="5.50" fill="#0a0a50" stroke="none" stroke-width="1" />
<text x="458.20" y="241.70" font-size="4.4" text-anchor="start" font-weight="normal" font-style="normal" fill="#222" stroke="#222" stroke-width="0.12">0.8</text>
<text x="458.20" y="247.20" font-size="4.4" text-anchor="start" font-weight="normal" font-style="normal" fill="#222" stroke="#222" stroke-width="0.12">0.6</text>
<text x="458.20" y="252.70" font-size="4.4" text-anchor="start" font-weight="normal" font-style="normal" fill="#222" stroke="#222" stroke-width="0.12">0.4</text>
<text x="458.20" y="258.20" font-size="4.4" text-anchor="start" font-weight="normal" font-style="normal" fill="#222" stroke="#222" stroke-width="0.12">0.2</text>
<text x="456.00" y="233.20" font-size="5" font-style="italic" fill="#333">r<tspan font-size="3.4" dy="-2">2</tspan></text>
<text x="303.40" y="320.30" font-size="4.9" text-anchor="start" font-weight="normal" font-style="italic" fill="#333" textLength="22.39" lengthAdjust="spacingAndGlyphs">&lt;-RALGDS</text>
<rect x="303.40" y="321.00" width="7.46" height="1.00" fill="#2a3a8a" stroke="none" stroke-width="1" />
<text x="342.51" y="320.30" font-size="4.9" text-anchor="start" font-weight="normal" font-style="italic" fill="#333" textLength="14.93" lengthAdjust="spacingAndGlyphs">&lt;-ABO</text>
<rect x="344.69" y="321.00" width="7.46" height="1.00" fill="#2a3a8a" stroke="none" stroke-width="1" />
<text x="359.72" y="320.30" font-size="4.9" text-anchor="start" font-weight="normal" font-style="italic" fill="#333" textLength="35.03" lengthAdjust="spacingAndGlyphs">&lt;-SURF6&lt;-C9orf96</text>
<rect x="370.37" y="321.00" width="1.99" height="1.00" fill="#2a3a8a" stroke="none" stroke-width="1" />
<rect x="382.71" y="321.00" width="9.16" height="1.00" fill="#2a3a8a" stroke="none" stroke-width="1" />
<text x="399.23" y="320.30" font-size="4.9" text-anchor="start" font-weight="normal" font-style="italic" fill="#333" textLength="22.79" lengthAdjust="spacingAndGlyphs">CACFD1-&gt;</text>
<rect x="407.19" y="321.00" width="3.98" height="1.00" fill="#2a3a8a" stroke="none" stroke-width="1" />
<text x="422.91" y="320.30" font-size="4.9" text-anchor="start" font-weight="normal" font-style="italic" fill="#333" textLength="29.06" lengthAdjust="spacingAndGlyphs">ADAMTSL2-&gt;</text>
<rect x="431.07" y="321.00" width="13.93" height="1.00" fill="#2a3a8a" stroke="none" stroke-width="1" />
<text x="305.19" y="327.70" font-size="4.9" text-anchor="start" font-weight="normal" font-style="italic" fill="#333" textLength="19.41" lengthAdjust="spacingAndGlyphs">&lt;-GBGT1</text>
<rect x="313.15" y="328.40" width="2.29" height="1.00" fill="#2a3a8a" stroke="none" stroke-width="1" />
<text x="363.20" y="327.70" font-size="4.9" text-anchor="start" font-weight="normal" font-style="italic" fill="#333" textLength="21.10" lengthAdjust="spacingAndGlyphs">&lt;-MED22</text>
<rect x="368.88" y="328.40" width="1.49" height="1.00" fill="#2a3a8a" stroke="none" stroke-width="1" />
<text x="385.60" y="327.70" font-size="4.9" text-anchor="start" font-weight="normal" font-style="italic" fill="#333" textLength="40.90" lengthAdjust="spacingAndGlyphs">&lt;-REXO4&lt;-SLC2A6</text>
<rect x="394.25" y="328.40" width="2.99" height="1.00" fill="#2a3a8a" stroke="none" stroke-width="1" />
<rect x="411.17" y="328.40" width="1.99" height="1.00" fill="#2a3a8a" stroke="none" stroke-width="1" />
<text x="438.34" y="327.70" font-size="4.9" text-anchor="start" font-weight="normal" font-style="italic" fill="#333" textLength="24.58" lengthAdjust="spacingAndGlyphs">&lt;-FAM163B</text>
<rect x="452.97" y="328.40" width="1.49" height="1.00" fill="#2a3a8a" stroke="none" stroke-width="1" />
<text x="321.81" y="335.10" font-size="4.9" text-anchor="start" font-weight="normal" font-style="italic" fill="#333" textLength="20.10" lengthAdjust="spacingAndGlyphs">&lt;-OBP2B</text>
<rect x="328.77" y="335.80" width="1.19" height="1.00" fill="#2a3a8a" stroke="none" stroke-width="1" />
<text x="362.61" y="335.10" font-size="4.9" text-anchor="start" font-weight="normal" font-style="italic" fill="#333" textLength="18.41" lengthAdjust="spacingAndGlyphs">RPL7A-&gt;</text>
<rect x="372.36" y="335.80" width="1.19" height="1.00" fill="#2a3a8a" stroke="none" stroke-width="1" />
<text x="385.60" y="335.10" font-size="4.9" text-anchor="start" font-weight="normal" font-style="italic" fill="#333" textLength="28.16" lengthAdjust="spacingAndGlyphs">ADAMTS13-&gt;</text>
<rect x="394.25" y="335.80" width="13.93" height="1.00" fill="#2a3a8a" stroke="none" stroke-width="1" />
<text x="419.13" y="335.10" font-size="4.9" text-anchor="start" font-weight="normal" font-style="italic" fill="#333" textLength="23.88" lengthAdjust="spacingAndGlyphs">&lt;-TMEM8C</text>
<rect x="428.09" y="335.80" width="2.99" height="1.00" fill="#2a3a8a" stroke="none" stroke-width="1" />
<text x="357.43" y="342.50" font-size="4.9" text-anchor="start" font-weight="normal" font-style="italic" fill="#333" textLength="25.87" lengthAdjust="spacingAndGlyphs">SNORD24-&gt;</text>
<text x="355.44" y="349.70" font-size="4.9" text-anchor="start" font-weight="normal" font-style="italic" fill="#333" textLength="30.85" lengthAdjust="spacingAndGlyphs">SNORD36B-&gt;</text>
<text x="355.44" y="357.00" font-size="4.9" text-anchor="start" font-weight="normal" font-style="italic" fill="#333" textLength="30.85" lengthAdjust="spacingAndGlyphs">SNORD36A-&gt;</text>
<text x="356.44" y="364.10" font-size="4.9" text-anchor="start" font-weight="normal" font-style="italic" fill="#333" textLength="30.85" lengthAdjust="spacingAndGlyphs">SNORD36C-&gt;</text>
<text x="365.89" y="371.70" font-size="4.9" text-anchor="start" font-weight="normal" font-style="italic" fill="#333" textLength="20.40" lengthAdjust="spacingAndGlyphs">&lt;-SURF1</text>
<rect x="373.85" y="372.40" width="1.99" height="1.00" fill="#2a3a8a" stroke="none" stroke-width="1" />
<text x="365.00" y="378.90" font-size="4.9" text-anchor="start" font-weight="normal" font-style="italic" fill="#333" textLength="19.80" lengthAdjust="spacingAndGlyphs">SURF2-&gt;</text>
<rect x="372.86" y="379.60" width="1.19" height="1.00" fill="#2a3a8a" stroke="none" stroke-width="1" />
<text x="371.07" y="386.20" font-size="4.9" text-anchor="start" font-weight="normal" font-style="italic" fill="#333" textLength="17.22" lengthAdjust="spacingAndGlyphs">&lt;-SURF4</text>
<rect x="376.34" y="386.90" width="5.97" height="1.00" fill="#2a3a8a" stroke="none" stroke-width="1" />
<text x="19.00" y="454.80" font-size="5.5" text-anchor="start" font-weight="normal" font-style="normal" fill="#222" textLength="33" lengthAdjust="spacingAndGlyphs" stroke="#222" stroke-width="0.12">Plotted SNPs</text>
<rect x="54.20" y="451.00" width="137.80" height="3.30" fill="#000"/>
<rect x="55.53" y="451.00" width="0.58" height="3.30" fill="#fff" opacity="0.70"/>
<rect x="58.07" y="451.00" width="0.39" height="3.30" fill="#fff" opacity="0.79"/>
<rect x="61.53" y="451.00" width="0.50" height="3.30" fill="#fff" opacity="0.63"/>
<rect x="63.39" y="451.00" width="0.30" height="3.30" fill="#fff" opacity="0.55"/>
<rect x="66.23" y="451.00" width="0.33" height="3.30" fill="#fff" opacity="0.79"/>
<rect x="68.08" y="451.00" width="0.39" height="3.30" fill="#fff" opacity="0.37"/>
<rect x="72.08" y="451.00" width="0.60" height="3.30" fill="#fff" opacity="0.83"/>
<rect x="75.00" y="451.00" width="0.31" height="3.30" fill="#fff" opacity="0.53"/>
<rect x="77.59" y="451.00" width="0.35" height="3.30" fill="#fff" opacity="0.87"/>
<rect x="79.83" y="451.00" width="0.36" height="3.30" fill="#fff" opacity="0.80"/>
<rect x="81.38" y="451.00" width="0.67" height="3.30" fill="#fff" opacity="0.60"/>
<rect x="84.12" y="451.00" width="0.44" height="3.30" fill="#fff" opacity="0.62"/>
<rect x="85.84" y="451.00" width="0.31" height="3.30" fill="#fff" opacity="0.83"/>
<rect x="87.70" y="451.00" width="0.61" height="3.30" fill="#fff" opacity="0.46"/>
<rect x="91.61" y="451.00" width="0.66" height="3.30" fill="#fff" opacity="0.77"/>
<rect x="94.95" y="451.00" width="0.53" height="3.30" fill="#fff" opacity="0.75"/>
<rect x="96.49" y="451.00" width="0.49" height="3.30" fill="#fff" opacity="0.80"/>
<rect x="98.26" y="451.00" width="0.67" height="3.30" fill="#fff" opacity="0.84"/>
<rect x="100.60" y="451.00" width="0.45" height="3.30" fill="#fff" opacity="0.60"/>
<rect x="102.88" y="451.00" width="0.70" height="3.30" fill="#fff" opacity="0.56"/>
<rect x="104.16" y="451.00" width="0.34" height="3.30" fill="#fff" opacity="0.74"/>
<rect x="108.14" y="451.00" width="0.50" height="3.30" fill="#fff" opacity="0.62"/>
<rect x="110.88" y="451.00" width="0.60" height="3.30" fill="#fff" opacity="0.47"/>
<rect x="113.78" y="451.00" width="0.52" height="3.30" fill="#fff" opacity="0.69"/>
<rect x="115.49" y="451.00" width="0.37" height="3.30" fill="#fff" opacity="0.54"/>
<rect x="119.29" y="451.00" width="0.44" height="3.30" fill="#fff" opacity="0.68"/>
<rect x="121.35" y="451.00" width="0.34" height="3.30" fill="#fff" opacity="0.39"/>
<rect x="124.82" y="451.00" width="0.61" height="3.30" fill="#fff" opacity="0.56"/>
<rect x="127.94" y="451.00" width="0.57" height="3.30" fill="#fff" opacity="0.84"/>
<rect x="131.82" y="451.00" width="0.46" height="3.30" fill="#fff" opacity="0.89"/>
<rect x="135.71" y="451.00" width="0.54" height="3.30" fill="#fff" opacity="0.84"/>
<rect x="138.29" y="451.00" width="0.45" height="3.30" fill="#fff" opacity="0.49"/>
<rect x="141.94" y="451.00" width="0.36" height="3.30" fill="#fff" opacity="0.39"/>
<rect x="145.39" y="451.00" width="0.61" height="3.30" fill="#fff" opacity="0.62"/>
<rect x="148.94" y="451.00" width="0.32" height="3.30" fill="#fff" opacity="0.49"/>
<rect x="150.95" y="451.00" width="0.47" height="3.30" fill="#fff" opacity="0.44"/>
<rect x="152.34" y="451.00" width="0.44" height="3.30" fill="#fff" opacity="0.84"/>
<rect x="156.30" y="451.00" width="0.60" height="3.30" fill="#fff" opacity="0.61"/>
<rect x="158.20" y="451.00" width="0.68" height="3.30" fill="#fff" opacity="0.64"/>
<rect x="161.44" y="451.00" width="0.31" height="3.30" fill="#fff" opacity="0.47"/>
<rect x="164.99" y="451.00" width="0.62" height="3.30" fill="#fff" opacity="0.83"/>
<rect x="167.88" y="451.00" width="0.47" height="3.30" fill="#fff" opacity="0.67"/>
<rect x="171.45" y="451.00" width="0.42" height="3.30" fill="#fff" opacity="0.64"/>
<rect x="173.43" y="451.00" width="0.61" height="3.30" fill="#fff" opacity="0.36"/>
<rect x="176.54" y="451.00" width="0.68" height="3.30" fill="#fff" opacity="0.36"/>
<rect x="179.41" y="451.00" width="0.56" height="3.30" fill="#fff" opacity="0.82"/>
<rect x="182.24" y="451.00" width="0.40" height="3.30" fill="#fff" opacity="0.57"/>
<rect x="186.13" y="451.00" width="0.66" height="3.30" fill="#fff" opacity="0.42"/>
<rect x="187.59" y="451.00" width="0.34" height="3.30" fill="#fff" opacity="0.36"/>
<rect x="190.04" y="451.00" width="0.36" height="3.30" fill="#fff" opacity="0.83"/>
<rect x="203.70" y="451.00" width="15.10" height="3.30" fill="#000"/>
<rect x="204.95" y="451.00" width="0.52" height="3.30" fill="#fff" opacity="0.53"/>
<rect x="207.54" y="451.00" width="0.39" height="3.30" fill="#fff" opacity="0.44"/>
<rect x="209.25" y="451.00" width="0.45" height="3.30" fill="#fff" opacity="0.74"/>
<rect x="211.99" y="451.00" width="0.32" height="3.30" fill="#fff" opacity="0.74"/>
<rect x="215.64" y="451.00" width="0.61" height="3.30" fill="#fff" opacity="0.78"/>
<rect x="216.86" y="451.00" width="0.49" height="3.30" fill="#fff" opacity="0.38"/>
<rect x="199.10" y="451.00" width="0.5" height="3.30" fill="#333"/>
<rect x="201.30" y="451.00" width="0.5" height="3.30" fill="#333"/>
<polyline points="54.50,540.50 66.30,540.50 66.80,499.00 67.60,499.00 68.20,540.50 192.20,540.50 192.60,535.30 203.00,535.30 203.50,540.30 213.60,540.30 214.00,496.80 214.80,496.80 215.20,540.30" fill="none" stroke="#6d6dd8" stroke-width="1" stroke-linejoin="round"/>
<path d="M92.9 540.6 167.0 529.9 158.3 540.8 95.3 537.9 129.4 537.3 164.3 539.3 59.8 540.5 140.3 524.6 190.1 530.9 202.4 532.5 177.9 531.6 180.6 539.1 182.0 530.3 93.5 524.0 145.0 540.8 182.3 535.2 91.2 533.0 68.6 536.6 217.2 530.7 172.4 536.8 129.5 539.7 217.1 539.6 110.1 532.1 93.9 535.4 157.2 533.9 77.8 540.6 139.3 537.5 69.5 537.2 107.4 533.6 179.5 524.4 113.3 531.7 75.6 534.2 181.8 523.1 158.0 539.7 69.5 524.1 102.5 532.6 108.1 539.3 163.2 541.2 125.1 538.8 209.9 537.6 202.3 520.3 109.7 537.6 63.8 534.2 150.9 523.1 179.9 519.6 163.6 539.0 182.5 540.6 103.7 538.1 168.5 526.0 142.7 533.6 170.3 528.1 114.8 535.2 153.3 530.3 167.1 537.3 119.2 536.0 58.4 535.1 150.2 536.1 205.7 524.7 212.9 541.1 124.9 533.1 140.5 538.8 206.2 531.0 94.6 533.9 201.5 539.0 143.9 535.8 133.6 535.9 87.0 536.0 180.0 525.9 157.5 539.0 114.6 538.6 209.9 531.0 158.4 530.0 176.7 523.4 76.3 518.9 208.5 540.5 119.2 528.9 122.0 537.2 179.2 536.1 74.4 535.8 88.9 524.5 119.4 537.8 144.1 526.8 169.5 526.0 215.9 532.0 211.0 533.1 128.8 532.7 216.9 540.9 139.0 540.9 207.3 526.8 70.2 539.7 91.6 534.4 74.5 541.5 118.1 532.1 178.0 537.4 123.9 528.4 120.6 534.6 150.8 535.3 212.9 534.0 61.5 537.1 55.9 537.7 169.2 539.1 171.6 522.6 187.0 531.6 96.1 534.5 140.0 530.6 190.0 535.5 206.1 536.1 92.1 531.8 210.6 536.9 130.4 533.9 149.3 532.9 166.9 525.7 55.2 539.0 174.6 537.4 130.3 528.9 127.2 531.7 167.4 533.5 203.9 539.8 77.2 540.7 150.0 539.6 119.4 541.2 147.7 537.4 171.5 524.7 73.9 522.6 148.5 540.7 182.7 529.1 170.8 537.7 128.2 528.3 56.9 536.2 61.4 536.2 180.9 540.9 100.1 530.3 59.5 536.2 189.6 533.9 105.5 530.6 84.6 523.0 125.9 533.1 105.6 518.0 101.3 531.1 156.1 532.2 129.5 531.4 93.4 531.8 96.6 533.1 134.1 538.9 210.6 529.9 172.8 539.3 171.6 531.7 179.8 536.9 177.4 532.3 81.7 540.8 215.1 535.9 140.3 540.7 141.0 528.3 209.7 534.7 111.5 531.0 125.0 528.4 163.4 535.5 174.0 535.4 72.8 532.3 153.9 534.9 72.7 520.0 92.6 534.1 164.6 530.4 128.6 535.3 68.8 528.5 137.0 529.3 142.6 537.1 162.6 540.9 151.3 541.5 101.7 525.9 217.4 533.9 144.9 530.3 202.5 540.8 133.9 535.6 160.7 522.3 176.3 540.9 155.0 524.0 215.1 534.0 159.6 539.8 135.3 539.3 71.4 541.3 146.3 530.4 164.2 522.4 117.8 535.6 129.6 539.5 85.2 536.9 149.6 530.7 76.1 535.4 174.0 539.3 152.2 530.0 78.1 532.0 138.8 532.8 102.8 538.6 87.9 528.7 189.7 528.7 133.4 534.2 97.1 538.5 146.4 532.8 98.5 535.8 119.7 532.8 133.8 539.5 69.3 526.8 110.9 537.7 109.2 535.0 73.1 522.9 170.1 526.5 96.9 529.9 58.3 538.0 77.6 538.8 149.5 525.0 158.2 533.5 138.5 541.3 74.9 540.9 98.3 538.6 178.1 526.0 142.9 531.5 179.0 528.4 214.9 531.1 179.1 533.4 127.2 535.4 75.6 523.3 98.6 520.1 203.5 541.5 172.8 525.4 112.1 535.0 150.7 531.3 83.7 539.7 207.0 539.4 150.5 531.4 150.3 529.6 213.5 533.2 180.1 529.4 161.6 537.2 217.5 537.0 168.3 527.5 187.2 535.6 112.8 524.0 75.0 535.5 117.2 537.3 131.1 537.6 163.1 531.7 125.0 536.8 133.5 528.4 213.3 538.6 142.3 536.3 54.1 537.9 104.5 525.9 61.1 539.4 114.5 537.6 88.5 541.0 174.0 522.0 212.0 528.8 91.3 539.3 78.0 535.2 155.2 530.8 127.5 527.9 151.5 536.8 130.1 535.9 153.9 540.8 141.3 531.4 84.7 540.9 157.2 535.8 141.2 537.3 61.9 533.1 175.4 533.3 174.5 525.0 153.2 528.2 163.9 538.1 185.3 540.8 133.3 531.3 64.7 531.7 145.7 535.5 210.4 535.7 166.0 529.0 66.1 523.9 58.0 540.6 69.7 528.7 151.1 533.7 95.9 539.5 127.4 540.9 214.9 525.5 65.9 536.9 158.1 524.4 216.4 530.3 207.4 532.0 79.2 540.8 132.1 532.8 154.8 539.6 61.8 540.9 145.5 533.8 175.7 530.1 209.9 525.4 167.9 529.2 86.5 539.3 79.5 534.1 217.6 526.4 126.4 539.0 121.9 533.6 149.1 541.2 137.1 537.3 113.5 537.5 73.2 534.7 163.1 529.8 124.9 530.0 180.7 534.0 127.5 530.5 207.5 533.8 188.5 529.1 141.0 529.8 131.6 539.8 72.0 532.8 170.2 533.1 174.6 533.2 177.9 529.7 142.4 541.1 177.7 535.0 163.9 532.9 156.3 539.1 142.5 526.0 93.6 533.9 152.1 539.6 96.1 526.7 143.6 541.5 212.2 523.7 92.8 535.4 108.7 531.7 215.8 537.6 109.4 533.9 184.9 541.5 158.8 537.2 211.0 527.0 154.7 540.6 133.2 537.1 175.6 541.1 163.5 531.1 156.1 537.6 182.0 534.4 108.7 539.9 74.2 538.1 170.9 522.3 149.5 539.2 143.4 539.0 185.6 537.0 188.8 528.2 123.5 530.1 184.3 531.4 178.3 533.4 79.3 527.0 66.0 533.6 96.3 536.2 132.6 536.5 126.1 532.1 123.8 532.8 213.4 517.1 217.4 524.8 209.6 517.8 71.8 536.8 153.2 525.8 143.0 539.1 134.8 540.6 165.5 530.1 64.4 528.9 120.9 541.2 67.2 536.4 216.0 541.5 75.8 539.5 152.2 541.0 123.8 540.6 130.9 541.4 93.1 521.9 150.9 539.6 114.6 533.3 140.2 532.9 212.2 535.7 135.8 528.2 163.8 534.2 154.9 525.4 140.3 536.9 170.7 514.3 187.1 538.8 156.7 540.9 188.6 540.7 146.4 529.2 75.7 516.6 182.0 531.7 209.8 523.2 211.1 531.5 177.9 541.1 79.5 532.0 205.9 532.2 161.4 541.2 108.3 535.4 121.8 541.1 96.8 532.0 70.1 534.3 184.1 529.3 125.7 536.5 209.9 526.7 165.4 537.6 188.8 531.6 210.7 539.2 54.1 538.9 205.9 534.9 112.0 531.4 122.9 537.4 164.9 541.4 102.4 523.6 69.0 539.2 117.2 531.5 131.5 534.0 74.5 534.4 208.3 533.0 74.6 528.7 179.4 526.0 215.9 523.5 71.1 534.7 138.5 532.6 75.6 526.5 176.4 536.9 177.5 540.8 81.8 541.0 216.1 539.6 166.0 539.1 64.4 535.3 120.8 539.1 90.9 524.0 67.3 534.8 190.2 540.5 57.0 540.7 75.9 537.7 82.5 523.9 123.1 532.2 129.4 533.9 82.0 535.5 75.5 526.2 206.7 536.2 103.0 530.0 138.4 538.2 146.7 539.4 131.8 540.7 162.3 533.6 209.9 529.9 174.5 531.8 172.7 533.9 110.9 535.4 55.1 540.8 105.3 537.7 142.2 523.3 204.6 533.0 169.3 530.0 143.8 534.3 190.0 532.9 167.3 528.5 113.7 535.4 184.2 539.4 148.0 535.8 61.7 539.3 135.6 537.1 67.7 527.2 165.7 541.1 113.7 534.1 83.6 528.6 149.8 534.7 187.3 537.2 87.9 539.7 70.0 538.8 131.9 538.9 158.1 536.0 184.4 533.7 188.6 536.0 117.3 539.1 141.3 533.5 100.8 529.0 141.5 535.1 174.4 530.6 146.5 541.3 206.0 541.2 204.1 531.1 217.7 527.8 187.1 529.5 105.6 531.9 210.9 528.5 216.0 536.3 58.6 537.3 133.0 524.5 70.4 536.3 215.0 539.7 148.3 531.7 169.3 533.0 99.6 539.5 186.9 527.8 135.5 530.1 178.4 528.6 143.3 537.4 213.4 537.3 207.8 518.1 156.9 537.3 175.7 528.9 102.8 533.8 184.2 535.0 201.7 536.0 163.2 536.6 104.3 534.1 66.2 535.5 94.1 540.9 102.7 537.2 114.0 526.6 87.0 526.3 77.7 537.5 188.7 536.9 127.7 534.0 146.6 538.1 203.4 534.0 63.3 536.8 126.1 541.3 79.8 523.0 163.5 528.8 67.2 533.1 96.7 524.0 107.0 526.4 90.2 541.2 211.2 540.9 115.2 531.7 148.3 533.6 134.8 528.5 113.8 530.8 210.2 541.3 210.9 524.7 93.1 539.0 98.3 541.0 106.5 528.2 81.1 519.1 131.8 534.9 138.6 536.4 147.9 539.7 163.2 534.6 167.4 538.6 109.7 533.3 144.9 526.0 79.9 537.3 82.4 537.2 168.3 537.1 210.1 533.4 128.0 531.5 59.2 539.3 86.3 535.5 111.5 533.3 188.9 538.4 212.3 526.9 144.9 531.7 165.7 532.6 169.0 540.8 92.2 537.5 57.9 539.6 203.8 535.5 135.4 532.6 175.5 534.7 81.2 534.2 217.4 532.5 171.6 535.4 214.3 537.8 67.8 523.3 94.6 540.7 181.0 537.8 152.4 524.2 70.2 533.7 99.9 540.8 70.1 541.4 160.9 524.6 185.8 533.5 86.2 525.3 131.2 528.9 175.9 527.7 130.0 527.2 73.1 540.9 77.1 533.8 114.3 541.4 146.3 521.1 137.1 539.3 101.5 539.2 65.1 537.6 127.3 539.6 134.7 530.0 204.9 528.2 122.1 530.9 145.6 538.8 148.5 525.4 75.1 538.8 177.6 531.2 89.6 529.6 108.7 527.0 184.7 537.8 184.3 527.8 169.1 515.5 149.1 535.1 209.7 539.6 128.7 529.8 100.8 521.9 109.4 540.7 61.5 540.9 76.9 536.0 216.2 526.9 207.0 537.2 88.4 535.9 168.3 541.1 190.1 537.3 138.9 539.0 100.1 535.3 118.1 534.4 58.5 540.7 155.3 536.9 111.0 540.8 64.6 539.4 183.0 533.3 87.7 537.8 175.3 525.4 88.7 536.8 134.5 537.4 129.4 541.0 139.7 535.5 157.4 540.7 63.3 539.5 88.4 539.2 91.1 540.8 183.2 531.4 176.4 524.0 177.1 536.5 179.3 538.4 104.6 539.6 98.3 526.6 125.1 541.3 87.2 533.8 86.5 526.6 172.2 539.0 105.6 541.2 214.5 529.6 172.0 540.7 156.5 526.8 169.6 528.2 85.3 536.0 174.6 540.9 153.6 532.9 131.2 532.3 98.0 522.2 67.7 539.2 117.6 530.9 140.4 534.5 173.1 523.8 101.3 534.0 187.6 541.1 152.9 533.3 84.0 535.7 210.5 530.8 169.5 536.6 167.5 534.5 103.9 541.1 161.3 529.5 95.3 522.3 141.3 540.7 152.0 535.4 81.6 536.6 73.2 539.1 138.1 539.9 107.0 536.9 154.9 533.6 71.7 528.8 112.2 537.8 180.2 535.6 177.2 534.0 115.9 531.8 170.8 538.9 125.1 534.9 202.0 538.0 120.7 537.2 187.5 533.6 172.2 533.4 149.7 533.3 100.1 537.4 71.1 538.9 113.9 539.2 180.9 526.8 175.2 526.9 139.4 529.0 142.5 529.5 119.0 539.0 99.9 533.5 212.1 525.1 180.3 531.2 171.6 526.6 130.5 535.4 121.0 531.5 206.3 537.6 212.1 537.6 88.5 533.0 116.0 536.5 210.1 538.7 65.9 521.1 166.7 541.3 209.7 529.1 135.5 533.8 107.4 536.4" fill="none" stroke="none" marker-start="url(#mn)" marker-mid="url(#mn)" marker-end="url(#mn)"/>
<path d="M77.8 511.5 79.5 513.5 80.7 516.0 86.4 511.0 98.0 510.2 87.0 517.3 83.6 519.6 79.0 520.8 76.0 521.3 64.5 523.6 66.3 520.8 70.3 524.2 68.0 524.8 74.3 523.0 92.2 519.6 94.5 521.3 92.8 524.8 91.0 528.3 101.4 518.5 99.5 521.0 103.0 520.5 105.0 522.5 107.2 523.0 110.7 527.7 156.7 497.5 156.7 500.4 142.3 505.6 168.2 507.9 150.4 512.5 152.5 513.8 154.4 514.8 148.0 522.3 150.0 523.5 152.0 524.0 153.8 524.6 157.3 527.5 161.9 523.4 164.0 524.5 166.0 525.0 167.7 525.8 168.3 508.1 171.9 514.1 175.5 515.3 199.3 532.0 191.5 530.0 193.0 536.0 116.0 514.5 123.0 516.0 131.0 524.0 137.0 521.0 145.0 527.0" fill="none" stroke="none" marker-start="url(#mn)" marker-mid="url(#mn)" marker-end="url(#mn)"/>
<circle cx="157.50" cy="478.80" r="1.35" fill="#c8141e" stroke="#5a0810" stroke-width="0.55"/>
<circle cx="160.40" cy="481.20" r="1.35" fill="#c8141e" stroke="#5a0810" stroke-width="0.55"/>
<circle cx="145.80" cy="507.30" r="1.35" fill="#34c040" stroke="#156a1c" stroke-width="0.55"/>
<circle cx="158.40" cy="510.50" r="1.35" fill="#34c040" stroke="#156a1c" stroke-width="0.55"/>
<circle cx="160.50" cy="509.00" r="1.35" fill="#34c040" stroke="#156a1c" stroke-width="0.55"/>
<circle cx="162.50" cy="508.50" r="1.35" fill="#34c040" stroke="#156a1c" stroke-width="0.55"/>
<circle cx="164.50" cy="510.00" r="1.35" fill="#34c040" stroke="#156a1c" stroke-width="0.55"/>
<circle cx="166.50" cy="511.50" r="1.35" fill="#34c040" stroke="#156a1c" stroke-width="0.55"/>
<circle cx="151.50" cy="519.00" r="1.35" fill="#34c040" stroke="#156a1c" stroke-width="0.55"/>
<circle cx="153.50" cy="518.80" r="1.35" fill="#34c040" stroke="#156a1c" stroke-width="0.55"/>
<circle cx="155.50" cy="519.50" r="1.35" fill="#34c040" stroke="#156a1c" stroke-width="0.55"/>
<circle cx="152.50" cy="521.00" r="1.35" fill="#34c040" stroke="#156a1c" stroke-width="0.55"/>
<circle cx="154.50" cy="521.10" r="1.35" fill="#34c040" stroke="#156a1c" stroke-width="0.55"/>
<circle cx="156.10" cy="520.00" r="1.35" fill="#34c040" stroke="#156a1c" stroke-width="0.55"/>
<circle cx="160.70" cy="520.60" r="1.35" fill="#34c040" stroke="#156a1c" stroke-width="0.55"/>
<circle cx="166.00" cy="518.30" r="1.35" fill="#34c040" stroke="#156a1c" stroke-width="0.55"/>
<circle cx="131.90" cy="518.30" r="1.35" fill="#92c2e6" stroke="#4f7ca6" stroke-width="0.55"/>
<circle cx="122.70" cy="521.70" r="1.35" fill="#92c2e6" stroke="#4f7ca6" stroke-width="0.55"/>
<circle cx="146.90" cy="519.40" r="1.35" fill="#92c2e6" stroke="#4f7ca6" stroke-width="0.55"/>
<circle cx="167.70" cy="516.00" r="1.35" fill="#92c2e6" stroke="#4f7ca6" stroke-width="0.55"/>
<circle cx="180.30" cy="511.10" r="1.35" fill="#92c2e6" stroke="#4f7ca6" stroke-width="0.55"/>
<circle cx="195.20" cy="533.80" r="1.35" fill="#92c2e6" stroke="#4f7ca6" stroke-width="0.55"/>
<circle cx="160.00" cy="509.00" r="1.35" fill="#34c040" stroke="#156a1c" stroke-width="0.55"/>
<circle cx="163.00" cy="510.50" r="1.35" fill="#34c040" stroke="#156a1c" stroke-width="0.55"/>
<circle cx="165.4" cy="471.5" r="1.4" fill="#3b3a78" stroke="#1a1a40" stroke-width="0.45"/>
<text x="150.80" y="467.60" font-size="5.2" text-anchor="start" font-weight="normal" font-style="normal" fill="#222" textLength="27.7" lengthAdjust="spacingAndGlyphs" stroke="#222" stroke-width="0.12">rs3124762</text>
<rect x="53.80" y="460.10" width="165.20" height="83.90" fill="none" stroke="#000" stroke-width="1.4" />
<line x1="50.60" y1="539.90" x2="53.80" y2="539.90" stroke="#000" stroke-width="1"/>
<text x="47.60" y="542.00" font-size="6.0" text-anchor="end" font-weight="normal" font-style="normal" fill="#333" stroke="#333" stroke-width="0.12">0</text>
<line x1="50.60" y1="523.00" x2="53.80" y2="523.00" stroke="#000" stroke-width="1"/>
<text x="47.60" y="525.10" font-size="6.0" text-anchor="end" font-weight="normal" font-style="normal" fill="#333" stroke="#333" stroke-width="0.12">2</text>
<line x1="50.60" y1="506.10" x2="53.80" y2="506.10" stroke="#000" stroke-width="1"/>
<text x="47.60" y="508.20" font-size="6.0" text-anchor="end" font-weight="normal" font-style="normal" fill="#333" stroke="#333" stroke-width="0.12">4</text>
<line x1="50.60" y1="489.20" x2="53.80" y2="489.20" stroke="#000" stroke-width="1"/>
<text x="47.60" y="491.30" font-size="6.0" text-anchor="end" font-weight="normal" font-style="normal" fill="#333" stroke="#333" stroke-width="0.12">6</text>
<line x1="50.60" y1="472.30" x2="53.80" y2="472.30" stroke="#000" stroke-width="1"/>
<text x="47.60" y="474.40" font-size="6.0" text-anchor="end" font-weight="normal" font-style="normal" fill="#333" stroke="#333" stroke-width="0.12">8</text>
<line x1="219.00" y1="540.30" x2="222.00" y2="540.30" stroke="#000" stroke-width="1"/>
<text x="225.40" y="542.40" font-size="6.0" text-anchor="start" font-weight="normal" font-style="normal" fill="#555" stroke="#555" stroke-width="0.12">0</text>
<line x1="219.00" y1="524.98" x2="222.00" y2="524.98" stroke="#000" stroke-width="1"/>
<text x="225.40" y="527.08" font-size="6.0" text-anchor="start" font-weight="normal" font-style="normal" fill="#555" stroke="#555" stroke-width="0.12">20</text>
<line x1="219.00" y1="509.66" x2="222.00" y2="509.66" stroke="#000" stroke-width="1"/>
<text x="225.40" y="511.76" font-size="6.0" text-anchor="start" font-weight="normal" font-style="normal" fill="#555" stroke="#555" stroke-width="0.12">40</text>
<line x1="219.00" y1="494.34" x2="222.00" y2="494.34" stroke="#000" stroke-width="1"/>
<text x="225.40" y="496.44" font-size="6.0" text-anchor="start" font-weight="normal" font-style="normal" fill="#555" stroke="#555" stroke-width="0.12">60</text>
<line x1="219.00" y1="479.02" x2="222.00" y2="479.02" stroke="#000" stroke-width="1"/>
<text x="225.40" y="481.12" font-size="6.0" text-anchor="start" font-weight="normal" font-style="normal" fill="#555" stroke="#555" stroke-width="0.12">80</text>
<line x1="219.00" y1="463.70" x2="222.00" y2="463.70" stroke="#000" stroke-width="1"/>
<text x="225.40" y="465.80" font-size="6.0" text-anchor="start" font-weight="normal" font-style="normal" fill="#555" stroke="#555" stroke-width="0.12">100</text>
<rect x="53.80" y="548.50" width="165.20" height="75.00" fill="none" stroke="#000" stroke-width="1.4" />
<line x1="53.80" y1="623.50" x2="53.80" y2="626.50" stroke="#000" stroke-width="1"/>
<text x="53.80" y="634.70" font-size="6.0" text-anchor="middle" font-weight="normal" font-style="normal" fill="#333" stroke="#333" stroke-width="0.12">136</text>
<line x1="86.84" y1="623.50" x2="86.84" y2="626.50" stroke="#000" stroke-width="1"/>
<text x="86.84" y="634.70" font-size="6.0" text-anchor="middle" font-weight="normal" font-style="normal" fill="#333" stroke="#333" stroke-width="0.12">136.1</text>
<line x1="119.88" y1="623.50" x2="119.88" y2="626.50" stroke="#000" stroke-width="1"/>
<text x="119.88" y="634.70" font-size="6.0" text-anchor="middle" font-weight="normal" font-style="normal" fill="#333" stroke="#333" stroke-width="0.12">136.2</text>
<line x1="152.92" y1="623.50" x2="152.92" y2="626.50" stroke="#000" stroke-width="1"/>
<text x="152.92" y="634.70" font-size="6.0" text-anchor="middle" font-weight="normal" font-style="normal" fill="#333" stroke="#333" stroke-width="0.12">136.3</text>
<line x1="185.96" y1="623.50" x2="185.96" y2="626.50" stroke="#000" stroke-width="1"/>
<text x="185.96" y="634.70" font-size="6.0" text-anchor="middle" font-weight="normal" font-style="normal" fill="#333" stroke="#333" stroke-width="0.12">136.4</text>
<line x1="219.00" y1="623.50" x2="219.00" y2="626.50" stroke="#000" stroke-width="1"/>
<text x="219.00" y="634.70" font-size="6.0" text-anchor="middle" font-weight="normal" font-style="normal" fill="#333" stroke="#333" stroke-width="0.12">136.5</text>
<text x="105.80" y="648.00" font-size="9.5" text-anchor="start" font-weight="normal" font-style="normal" fill="#222" textLength="68.2" lengthAdjust="spacingAndGlyphs" stroke="#222" stroke-width="0.4">Position on chr9 (Mb)</text>
<text transform="translate(35.00,502.00) rotate(-90)" font-size="9.3" fill="#222" stroke="#222" stroke-width="0.4" text-anchor="middle" textLength="50" lengthAdjust="spacingAndGlyphs">-log10(p-value)</text>
<text transform="translate(241.40,502.00) rotate(90)" font-size="9.3" fill="#464690" stroke="#464690" stroke-width="0.4" text-anchor="middle" textLength="92" lengthAdjust="spacingAndGlyphs">Recombination rate (cM/Mb)</text>
<rect x="56.30" y="469.00" width="5.20" height="5.50" fill="#e8141c" stroke="none" stroke-width="1" />
<rect x="56.30" y="474.50" width="5.20" height="5.50" fill="#f5a020" stroke="none" stroke-width="1" />
<rect x="56.30" y="480.00" width="5.20" height="5.50" fill="#2ccf3a" stroke="none" stroke-width="1" />
<rect x="56.30" y="485.50" width="5.20" height="5.50" fill="#8cc8f0" stroke="none" stroke-width="1" />
<rect x="56.30" y="491.00" width="5.20" height="5.50" fill="#0a0a50" stroke="none" stroke-width="1" />
<text x="64.70" y="476.00" font-size="4.4" text-anchor="start" font-weight="normal" font-style="normal" fill="#222" stroke="#222" stroke-width="0.12">0.8</text>
<text x="64.70" y="481.50" font-size="4.4" text-anchor="start" font-weight="normal" font-style="normal" fill="#222" stroke="#222" stroke-width="0.12">0.6</text>
<text x="64.70" y="487.00" font-size="4.4" text-anchor="start" font-weight="normal" font-style="normal" fill="#222" stroke="#222" stroke-width="0.12">0.4</text>
<text x="64.70" y="492.50" font-size="4.4" text-anchor="start" font-weight="normal" font-style="normal" fill="#222" stroke="#222" stroke-width="0.12">0.2</text>
<text x="62.50" y="467.50" font-size="5" font-style="italic" fill="#333">r<tspan font-size="3.4" dy="-2">2</tspan></text>
<text x="54.70" y="554.30" font-size="4.9" text-anchor="start" font-weight="normal" font-style="italic" fill="#333" textLength="22.50" lengthAdjust="spacingAndGlyphs">&lt;-RALGDS</text>
<rect x="54.70" y="555.00" width="7.50" height="1.00" fill="#2a3a8a" stroke="none" stroke-width="1" />
<text x="94.00" y="554.30" font-size="4.9" text-anchor="start" font-weight="normal" font-style="italic" fill="#333" textLength="15.00" lengthAdjust="spacingAndGlyphs">&lt;-ABO</text>
<rect x="96.20" y="555.00" width="7.50" height="1.00" fill="#2a3a8a" stroke="none" stroke-width="1" />
<text x="111.30" y="554.30" font-size="4.9" text-anchor="start" font-weight="normal" font-style="italic" fill="#333" textLength="35.20" lengthAdjust="spacingAndGlyphs">&lt;-SURF6&lt;-C9orf96</text>
<rect x="122.00" y="555.00" width="2.00" height="1.00" fill="#2a3a8a" stroke="none" stroke-width="1" />
<rect x="134.40" y="555.00" width="9.20" height="1.00" fill="#2a3a8a" stroke="none" stroke-width="1" />
<text x="151.00" y="554.30" font-size="4.9" text-anchor="start" font-weight="normal" font-style="italic" fill="#333" textLength="22.90" lengthAdjust="spacingAndGlyphs">CACFD1-&gt;</text>
<rect x="159.00" y="555.00" width="4.00" height="1.00" fill="#2a3a8a" stroke="none" stroke-width="1" />
<text x="174.80" y="554.30" font-size="4.9" text-anchor="start" font-weight="normal" font-style="italic" fill="#333" textLength="29.20" lengthAdjust="spacingAndGlyphs">ADAMTSL2-&gt;</text>
<rect x="183.00" y="555.00" width="14.00" height="1.00" fill="#2a3a8a" stroke="none" stroke-width="1" />
<text x="56.50" y="561.70" font-size="4.9" text-anchor="start" font-weight="normal" font-style="italic" fill="#333" textLength="19.50" lengthAdjust="spacingAndGlyphs">&lt;-GBGT1</text>
<rect x="64.50" y="562.40" width="2.30" height="1.00" fill="#2a3a8a" stroke="none" stroke-width="1" />
<text x="114.80" y="561.70" font-size="4.9" text-anchor="start" font-weight="normal" font-style="italic" fill="#333" textLength="21.20" lengthAdjust="spacingAndGlyphs">&lt;-MED22</text>
<rect x="120.50" y="562.40" width="1.50" height="1.00" fill="#2a3a8a" stroke="none" stroke-width="1" />
<text x="137.30" y="561.70" font-size="4.9" text-anchor="start" font-weight="normal" font-style="italic" fill="#333" textLength="41.10" lengthAdjust="spacingAndGlyphs">&lt;-REXO4&lt;-SLC2A6</text>
<rect x="146.00" y="562.40" width="3.00" height="1.00" fill="#2a3a8a" stroke="none" stroke-width="1" />
<rect x="163.00" y="562.40" width="2.00" height="1.00" fill="#2a3a8a" stroke="none" stroke-width="1" />
<text x="190.30" y="561.70" font-size="4.9" text-anchor="start" font-weight="normal" font-style="italic" fill="#333" textLength="24.70" lengthAdjust="spacingAndGlyphs">&lt;-FAM163B</text>
<rect x="205.00" y="562.40" width="1.50" height="1.00" fill="#2a3a8a" stroke="none" stroke-width="1" />
<text x="73.20" y="569.10" font-size="4.9" text-anchor="start" font-weight="normal" font-style="italic" fill="#333" textLength="20.20" lengthAdjust="spacingAndGlyphs">&lt;-OBP2B</text>
<rect x="80.20" y="569.80" width="1.20" height="1.00" fill="#2a3a8a" stroke="none" stroke-width="1" />
<text x="114.20" y="569.10" font-size="4.9" text-anchor="start" font-weight="normal" font-style="italic" fill="#333" textLength="18.50" lengthAdjust="spacingAndGlyphs">RPL7A-&gt;</text>
<rect x="124.00" y="569.80" width="1.20" height="1.00" fill="#2a3a8a" stroke="none" stroke-width="1" />
<text x="137.30" y="569.10" font-size="4.9" text-anchor="start" font-weight="normal" font-style="italic" fill="#333" textLength="28.30" lengthAdjust="spacingAndGlyphs">ADAMTS13-&gt;</text>
<rect x="146.00" y="569.80" width="14.00" height="1.00" fill="#2a3a8a" stroke="none" stroke-width="1" />
<text x="171.00" y="569.10" font-size="4.9" text-anchor="start" font-weight="normal" font-style="italic" fill="#333" textLength="24.00" lengthAdjust="spacingAndGlyphs">&lt;-TMEM8C</text>
<rect x="180.00" y="569.80" width="3.00" height="1.00" fill="#2a3a8a" stroke="none" stroke-width="1" />
<text x="109.00" y="576.50" font-size="4.9" text-anchor="start" font-weight="normal" font-style="italic" fill="#333" textLength="26.00" lengthAdjust="spacingAndGlyphs">SNORD24-&gt;</text>
<text x="107.00" y="583.70" font-size="4.9" text-anchor="start" font-weight="normal" font-style="italic" fill="#333" textLength="31.00" lengthAdjust="spacingAndGlyphs">SNORD36B-&gt;</text>
<text x="107.00" y="591.00" font-size="4.9" text-anchor="start" font-weight="normal" font-style="italic" fill="#333" textLength="31.00" lengthAdjust="spacingAndGlyphs">SNORD36A-&gt;</text>
<text x="108.00" y="598.10" font-size="4.9" text-anchor="start" font-weight="normal" font-style="italic" fill="#333" textLength="31.00" lengthAdjust="spacingAndGlyphs">SNORD36C-&gt;</text>
<text x="117.50" y="605.70" font-size="4.9" text-anchor="start" font-weight="normal" font-style="italic" fill="#333" textLength="20.50" lengthAdjust="spacingAndGlyphs">&lt;-SURF1</text>
<rect x="125.50" y="606.40" width="2.00" height="1.00" fill="#2a3a8a" stroke="none" stroke-width="1" />
<text x="116.60" y="612.90" font-size="4.9" text-anchor="start" font-weight="normal" font-style="italic" fill="#333" textLength="19.90" lengthAdjust="spacingAndGlyphs">SURF2-&gt;</text>
<rect x="124.50" y="613.60" width="1.20" height="1.00" fill="#2a3a8a" stroke="none" stroke-width="1" />
<text x="122.70" y="620.20" font-size="4.9" text-anchor="start" font-weight="normal" font-style="italic" fill="#333" textLength="17.30" lengthAdjust="spacingAndGlyphs">&lt;-SURF4</text>
<rect x="128.00" y="620.90" width="6.00" height="1.00" fill="#2a3a8a" stroke="none" stroke-width="1" />
<text x="267.20" y="455.50" font-size="5.5" text-anchor="start" font-weight="normal" font-style="normal" fill="#222" textLength="33" lengthAdjust="spacingAndGlyphs" stroke="#222" stroke-width="0.12">Plotted SNPs</text>
<rect x="302.50" y="452.20" width="165.50" height="3.00" fill="#000"/>
<rect x="304.26" y="452.20" width="0.59" height="3.00" fill="#fff" opacity="0.57"/>
<rect x="308.02" y="452.20" width="0.80" height="3.00" fill="#fff" opacity="0.95"/>
<rect x="310.77" y="452.20" width="0.68" height="3.00" fill="#fff" opacity="0.98"/>
<rect x="313.58" y="452.20" width="0.92" height="3.00" fill="#fff" opacity="0.93"/>
<rect x="317.13" y="452.20" width="0.71" height="3.00" fill="#fff" opacity="0.57"/>
<rect x="318.75" y="452.20" width="0.88" height="3.00" fill="#fff" opacity="0.57"/>
<rect x="321.79" y="452.20" width="0.82" height="3.00" fill="#fff" opacity="0.50"/>
<rect x="325.18" y="452.20" width="0.47" height="3.00" fill="#fff" opacity="1.00"/>
<rect x="328.74" y="452.20" width="0.58" height="3.00" fill="#fff" opacity="0.97"/>
<rect x="331.99" y="452.20" width="0.53" height="3.00" fill="#fff" opacity="0.93"/>
<rect x="333.53" y="452.20" width="1.00" height="3.00" fill="#fff" opacity="0.95"/>
<rect x="337.48" y="452.20" width="0.48" height="3.00" fill="#fff" opacity="0.68"/>
<rect x="340.41" y="452.20" width="0.81" height="3.00" fill="#fff" opacity="0.59"/>
<rect x="344.10" y="452.20" width="0.96" height="3.00" fill="#fff" opacity="0.67"/>
<rect x="345.71" y="452.20" width="0.85" height="3.00" fill="#fff" opacity="0.75"/>
<rect x="348.77" y="452.20" width="0.75" height="3.00" fill="#fff" opacity="0.74"/>
<rect x="350.03" y="452.20" width="0.53" height="3.00" fill="#fff" opacity="0.78"/>
<rect x="353.27" y="452.20" width="0.71" height="3.00" fill="#fff" opacity="0.99"/>
<rect x="355.98" y="452.20" width="0.98" height="3.00" fill="#fff" opacity="0.92"/>
<rect x="358.08" y="452.20" width="0.53" height="3.00" fill="#fff" opacity="0.50"/>
<rect x="359.39" y="452.20" width="0.97" height="3.00" fill="#fff" opacity="1.00"/>
<rect x="362.69" y="452.20" width="0.52" height="3.00" fill="#fff" opacity="0.93"/>
<rect x="364.25" y="452.20" width="0.98" height="3.00" fill="#fff" opacity="0.92"/>
<rect x="367.55" y="452.20" width="0.82" height="3.00" fill="#fff" opacity="0.75"/>
<rect x="371.12" y="452.20" width="1.03" height="3.00" fill="#fff" opacity="0.63"/>
<rect x="373.55" y="452.20" width="0.89" height="3.00" fill="#fff" opacity="0.94"/>
<rect x="375.90" y="452.20" width="0.72" height="3.00" fill="#fff" opacity="1.00"/>
<rect x="377.87" y="452.20" width="0.58" height="3.00" fill="#fff" opacity="0.95"/>
<rect x="379.85" y="452.20" width="0.99" height="3.00" fill="#fff" opacity="0.69"/>
<rect x="383.64" y="452.20" width="0.68" height="3.00" fill="#fff" opacity="1.00"/>
<rect x="386.94" y="452.20" width="0.89" height="3.00" fill="#fff" opacity="0.61"/>
<rect x="388.60" y="452.20" width="0.47" height="3.00" fill="#fff" opacity="0.58"/>
<rect x="391.67" y="452.20" width="0.49" height="3.00" fill="#fff" opacity="0.62"/>
<rect x="394.45" y="452.20" width="0.54" height="3.00" fill="#fff" opacity="0.69"/>
<rect x="396.29" y="452.20" width="0.86" height="3.00" fill="#fff" opacity="0.54"/>
<rect x="400.29" y="452.20" width="0.81" height="3.00" fill="#fff" opacity="0.96"/>
<rect x="403.03" y="452.20" width="0.75" height="3.00" fill="#fff" opacity="1.00"/>
<rect x="406.74" y="452.20" width="0.94" height="3.00" fill="#fff" opacity="0.48"/>
<rect x="409.59" y="452.20" width="1.02" height="3.00" fill="#fff" opacity="0.91"/>
<rect x="412.22" y="452.20" width="0.84" height="3.00" fill="#fff" opacity="0.58"/>
<rect x="415.46" y="452.20" width="0.92" height="3.00" fill="#fff" opacity="0.51"/>
<rect x="418.09" y="452.20" width="0.81" height="3.00" fill="#fff" opacity="0.71"/>
<rect x="421.20" y="452.20" width="1.00" height="3.00" fill="#fff" opacity="1.00"/>
<rect x="423.26" y="452.20" width="0.54" height="3.00" fill="#fff" opacity="1.00"/>
<rect x="426.17" y="452.20" width="0.95" height="3.00" fill="#fff" opacity="1.00"/>
<rect x="428.15" y="452.20" width="0.80" height="3.00" fill="#fff" opacity="0.67"/>
<rect x="431.59" y="452.20" width="0.86" height="3.00" fill="#fff" opacity="0.63"/>
<rect x="434.19" y="452.20" width="0.81" height="3.00" fill="#fff" opacity="0.62"/>
<rect x="435.90" y="452.20" width="0.73" height="3.00" fill="#fff" opacity="0.51"/>
<rect x="438.48" y="452.20" width="1.01" height="3.00" fill="#fff" opacity="1.00"/>
<rect x="439.84" y="452.20" width="0.95" height="3.00" fill="#fff" opacity="0.97"/>
<rect x="443.02" y="452.20" width="0.47" height="3.00" fill="#fff" opacity="1.00"/>
<rect x="444.77" y="452.20" width="0.93" height="3.00" fill="#fff" opacity="0.69"/>
<rect x="446.99" y="452.20" width="0.55" height="3.00" fill="#fff" opacity="1.00"/>
<rect x="448.81" y="452.20" width="0.97" height="3.00" fill="#fff" opacity="0.82"/>
<rect x="450.43" y="452.20" width="0.84" height="3.00" fill="#fff" opacity="0.83"/>
<rect x="451.71" y="452.20" width="0.94" height="3.00" fill="#fff" opacity="0.65"/>
<rect x="452.97" y="452.20" width="0.91" height="3.00" fill="#fff" opacity="0.97"/>
<rect x="455.25" y="452.20" width="0.56" height="3.00" fill="#fff" opacity="0.83"/>
<rect x="458.09" y="452.20" width="0.86" height="3.00" fill="#fff" opacity="0.81"/>
<rect x="460.88" y="452.20" width="0.88" height="3.00" fill="#fff" opacity="0.59"/>
<rect x="462.59" y="452.20" width="0.74" height="3.00" fill="#fff" opacity="0.99"/>
<rect x="466.04" y="452.20" width="0.96" height="3.00" fill="#fff" opacity="0.77"/>
<line x1="322.00" y1="589.60" x2="322.00" y2="529.00" stroke="#8a8ad8" stroke-width="1.6"/>
<line x1="338.50" y1="589.60" x2="338.50" y2="554.60" stroke="#8a8ad8" stroke-width="1.0"/>
<line x1="346.30" y1="589.60" x2="346.30" y2="562.00" stroke="#8a8ad8" stroke-width="1.0"/>
<line x1="407.60" y1="589.60" x2="407.60" y2="541.80" stroke="#8a8ad8" stroke-width="1.2"/>
<line x1="416.00" y1="589.60" x2="416.00" y2="545.10" stroke="#8a8ad8" stroke-width="1.4"/>
<line x1="449.90" y1="589.60" x2="449.90" y2="518.40" stroke="#8a8ad8" stroke-width="1.2"/>
<line x1="455.60" y1="589.60" x2="455.60" y2="513.40" stroke="#8a8ad8" stroke-width="2.2"/>
<path d="M365.9 570.8 379.2 576.8 318.4 590.1 467.4 575.8 403.8 582.7 395.7 576.4 416.0 584.3 449.1 578.4 451.5 581.1 402.4 583.1 386.1 573.3 322.5 580.8 449.9 583.9 367.0 584.7 405.3 583.0 399.8 585.7 452.2 585.0 443.2 578.2 458.6 582.8 406.3 581.3 315.4 580.4 306.2 589.9 413.6 581.7 390.4 589.7 345.3 582.6 314.3 588.0 334.4 581.0 457.7 568.6 447.1 573.8 344.2 581.2 417.9 589.4 354.8 589.9 346.7 587.3 357.5 578.6 320.0 566.8 317.4 577.6 432.3 580.5 310.2 573.9 344.0 580.0 372.2 562.6 359.4 588.5 391.4 575.8 381.9 577.2 352.1 569.9 362.2 581.9 337.7 568.8 356.9 586.8 384.1 583.3 331.4 589.7 339.4 586.1 406.0 557.3 379.1 560.1 448.7 588.4 337.3 586.5 459.6 587.9 349.2 578.7 319.5 578.2 321.9 564.4 322.6 579.2 408.6 588.2 459.5 575.3 348.3 589.5 402.3 579.5 353.4 582.0 434.6 575.8 409.8 583.0 379.3 575.7 409.5 584.0 442.7 586.6 461.8 578.0 335.4 583.6 362.0 575.6 402.6 590.3 339.2 588.3 348.5 580.2 372.5 582.9 387.1 578.4 429.8 577.9 339.7 584.6 355.1 582.9 343.1 586.2 333.0 586.5 465.3 582.7 316.9 587.5 427.8 584.9 325.3 571.4 403.4 590.2 339.5 590.0 443.3 584.3 354.5 585.0 440.2 580.8 449.8 574.2 372.0 584.5 385.9 568.0 367.0 563.1 393.2 585.8 341.9 576.6 386.0 579.9 367.4 588.2 387.1 576.0 444.0 577.7 346.1 590.2 368.5 576.3 346.3 573.7 422.3 584.6 350.6 573.2 420.9 588.7 379.4 586.1 399.1 589.3 371.7 585.9 467.3 576.5 404.0 576.8 337.1 589.4 376.0 588.1 382.8 584.5 323.2 582.5 392.9 582.1 392.1 569.8 332.0 582.8 385.9 584.5 404.0 587.3 364.2 588.2 415.9 576.9 345.0 580.7 397.8 582.0 339.3 580.3 311.7 589.8 343.7 572.8 463.1 580.1 398.3 576.4 348.3 581.8 316.5 568.5 315.5 589.6 382.0 582.2 395.9 588.2 411.3 572.0 357.8 580.0 386.7 586.6 430.7 570.9 340.2 581.6 320.2 578.3 403.9 585.9 379.7 589.6 411.2 586.0 349.0 586.9 384.7 585.6 314.7 585.6 467.0 581.4 407.2 575.6 326.5 589.6 417.3 588.7 411.6 589.4 319.8 589.4 426.2 577.9 368.1 579.6 335.7 582.2 435.4 578.7 369.8 574.5 307.6 590.1 449.5 584.6 350.3 586.7 441.4 578.8 407.8 587.4 439.6 582.6 411.5 580.5 335.5 585.7 372.1 578.5 366.8 581.8 391.8 566.6 435.9 589.9 406.5 579.5 436.0 586.2 316.7 573.4 458.2 578.5 353.8 563.6 356.1 590.2 419.7 585.2 323.0 563.2 396.7 582.0 340.1 588.3 447.6 580.7 397.0 589.9 317.1 581.1 441.5 584.3 433.9 583.1 424.9 589.4 404.5 581.8 464.3 582.1 379.5 582.1 465.7 579.0 411.7 582.2 386.9 574.1 364.6 583.0 446.7 587.5 324.7 581.8 365.2 583.8 381.2 581.9 399.7 581.8 328.8 578.2 403.9 560.3 345.7 588.7 363.8 582.3 388.9 575.0 377.9 574.0 411.6 587.4 318.9 574.5 314.4 583.2 459.2 585.9 383.3 585.3 312.1 573.0 329.9 579.6 394.5 590.1 454.9 579.9 444.6 571.3 321.2 579.6 353.7 580.5 331.9 576.3 311.5 578.8 445.1 590.0 356.6 582.9 325.8 582.1 346.9 584.1 315.3 577.9 312.7 579.2 449.4 590.2 401.1 586.1 395.8 579.1 426.6 580.5 405.4 587.7 328.0 580.1 391.4 571.5 455.5 579.2 399.4 574.9 404.2 574.1 403.5 567.1 430.3 576.8 457.1 588.3 392.1 580.1 439.8 576.5 420.5 576.0 434.2 577.9 322.7 583.3 322.3 586.6 329.9 582.1 439.5 576.9 390.0 574.9 366.6 590.2 347.4 587.5 362.3 589.9 353.8 578.6 391.0 588.0 395.5 581.5 326.7 579.0 364.3 584.8 407.8 582.4 327.7 588.0 321.4 587.8 445.5 580.4 348.1 577.8 415.5 584.1 412.3 589.8 351.0 589.6 341.8 586.0 426.1 584.0 340.5 576.3 424.2 578.4 329.4 582.7 309.3 582.6 322.2 589.3 377.2 587.9 457.2 576.6 331.6 581.0 452.0 587.5 391.7 587.6 464.6 562.2 415.9 589.4 411.6 580.4 388.7 581.6 451.8 581.7 433.4 574.7 386.2 582.2 465.8 580.6 334.3 578.1 334.4 585.0 381.4 588.0 350.8 584.6 339.9 586.7 382.0 580.0 379.8 588.7 414.9 580.1 396.1 567.5 447.0 583.6 384.4 578.3 351.1 578.7 312.3 575.4 339.4 566.5 391.6 585.2 461.6 583.8 467.2 586.6 330.3 588.2 321.8 581.4 383.2 579.1 330.4 578.5 361.8 577.2 462.2 586.4 338.1 581.5 328.0 584.9 438.6 588.3 345.5 584.3 407.7 571.7 331.6 574.4 318.6 578.8 312.9 586.2 438.6 578.4 365.6 565.1 454.9 582.0 394.1 577.6 428.2 588.0 307.0 587.6 389.8 564.2 389.8 580.1 460.7 574.8 310.8 576.5 453.5 579.2 440.2 588.0 427.4 583.9 323.7 589.5 319.9 572.6 415.9 588.2 304.0 583.8 325.1 588.3 463.2 581.7 367.3 573.1 432.1 575.3 391.6 576.7 382.3 585.3 409.7 589.5 375.7 590.3 388.9 577.0 405.6 553.1 380.6 578.5 346.8 582.0 419.4 577.2 383.0 588.0 369.3 572.4 317.4 589.6 307.0 581.7 359.3 589.9 389.8 577.6 397.4 583.6 372.6 585.8 419.7 581.2 409.3 571.6 369.8 584.0 415.3 578.2 379.7 574.3 434.6 589.8 369.6 580.6 326.2 572.5 442.6 588.1 360.6 586.0 466.0 577.3 391.1 574.2 356.9 578.0 433.5 586.6 386.2 570.1 321.1 583.5 416.8 580.0 444.8 579.7 381.0 588.2 452.1 585.7 303.2 579.8 389.2 587.2 356.5 585.1 460.8 583.4 411.5 584.8 455.6 583.7 318.9 587.6 316.5 560.4 406.8 585.4 372.7 588.3 377.9 584.2 369.7 588.3 387.3 580.4 458.3 585.8 426.4 579.5 311.7 571.1 408.8 580.5 368.4 585.3 449.6 585.5 463.1 576.2 393.2 589.3 438.6 589.5 396.5 585.9 351.9 587.9 308.6 588.4 454.9 584.0 444.4 576.0 458.7 590.1 331.9 578.8 455.9 578.1 343.2 587.7 319.3 584.6 454.3 576.1 450.4 586.2 320.1 583.9 319.6 574.7 364.3 559.5 380.5 585.2 363.1 586.1 312.6 584.0 434.9 580.4 387.5 577.0 364.6 578.7 456.2 572.4 434.0 585.7 334.1 576.5 313.5 587.8 394.4 585.9 362.9 587.3 391.4 583.5 329.5 574.1 451.9 572.0 422.2 580.0 377.5 581.9 429.6 582.6 440.2 584.2 445.3 578.0 392.0 573.8 397.4 577.5 303.2 590.1 365.3 578.5 335.5 587.5 408.5 579.1 334.0 579.7 406.8 575.4 409.9 576.2 387.4 589.8 390.4 576.3 403.9 577.1 407.8 573.4 348.6 584.3 400.9 582.5 316.5 579.0 319.5 572.5 433.2 579.6 321.9 578.2 364.4 589.6 371.9 575.5 432.3 587.9 381.1 577.0 391.6 578.0 444.3 582.1 464.4 580.7 415.3 586.0 426.6 582.7 344.5 576.2 326.6 576.6 435.6 575.0 313.4 567.3 380.4 572.8 318.6 582.2 465.8 571.4 440.3 586.0 324.0 584.2 455.9 582.1 452.3 575.6 303.0 581.3 440.3 582.3 419.8 583.5 372.3 573.9 404.0 578.3 342.4 590.0 374.2 584.3 425.2 581.0 465.3 585.3 435.7 584.7 424.8 586.7 326.0 584.4 383.4 582.4 441.6 588.0 312.0 581.5 337.7 587.4 466.0 589.4 313.9 589.5 365.0 575.3 361.0 578.9 389.1 563.1 411.9 577.5 398.3 580.0 414.0 590.2 435.5 588.0 454.9 574.1 455.0 578.4 388.7 572.9 320.3 577.0 464.0 572.5 311.6 586.8 327.6 583.1 407.8 569.1 308.0 586.1 372.6 577.3 465.4 588.5 346.4 577.6 431.0 584.2 350.2 582.5 363.6 569.4 411.9 576.8 397.7 574.6 447.1 589.6 449.5 582.0 464.3 577.3 337.3 579.7 314.3 574.5 359.7 582.6 418.0 584.7 308.3 584.4 369.3 569.0 433.2 581.3 454.5 586.4 337.9 583.5 364.3 581.5 304.6 587.4 397.7 587.8 384.8 587.7 397.9 585.8 436.7 580.4 446.5 578.9 415.2 588.3 388.7 579.2 400.7 574.5 394.4 582.0 337.7 577.1 426.6 572.0 391.7 582.4 318.2 577.6 402.7 575.6 312.8 590.2 382.5 576.8 364.9 572.6 425.3 590.0 376.0 583.7 303.9 588.0 421.0 578.2 306.4 586.2 458.9 576.9 447.4 577.9 458.3 580.7 428.3 577.9 433.0 587.9 306.7 584.3 460.3 589.5 407.4 585.4 352.1 581.1 341.8 578.7 324.6 580.6 394.3 587.9 368.1 581.8 408.7 570.0 404.3 568.5 405.9 571.0 341.1 567.5 401.0 577.8 382.0 586.7 438.4 576.0 362.0 563.8 311.7 585.3 394.0 579.8 388.7 585.6 384.8 576.7 319.1 582.0 381.8 575.0 413.3 568.2 409.0 555.1 394.3 584.0 409.3 582.1 455.6 576.1 421.7 582.9 376.3 585.9 341.5 579.5 346.6 585.8 321.8 589.5 308.4 576.8 344.3 578.8 373.1 589.6 357.6 584.0 414.7 589.8 335.2 578.2 345.7 562.0 368.5 583.2 462.9 585.3 401.1 575.9 467.4 571.5 444.3 584.1 369.3 582.1 438.6 583.6 380.8 589.8 459.1 580.9 329.9 589.8 394.3 563.3 362.4 568.2 425.2 587.6 461.6 589.3 358.0 585.6 340.3 579.3 405.7 575.1 434.9 574.9 411.8 568.6 436.9 589.5 423.1 576.5 421.3 587.0 361.8 586.0 389.8 573.0 430.2 582.1 304.7 581.0 399.1 580.4 461.5 573.1 449.7 580.5 387.2 586.5 335.4 579.9 432.4 578.5 387.4 584.0 392.5 584.5 393.1 584.1 372.8 580.8 348.2 576.4 410.1 585.5 452.4 587.8 365.8 589.5 377.5 572.2 438.8 580.2 323.7 580.6 432.4 576.7 450.5 577.5 433.8 577.2 345.3 578.7 437.0 587.5 349.4 590.0 441.2 590.1 393.0 587.6 453.1 583.9 312.6 580.5 352.3 584.4 405.3 583.9 406.5 589.9 465.8 573.5 402.5 585.8 460.0 589.5 447.6 589.8 455.8 589.9 332.3 571.3 462.7 578.3 369.4 589.4 460.9 588.0 323.6 575.3 327.6 589.8 344.2 587.3 370.0 586.1 426.9 588.0 396.5 579.0 316.7 575.1 407.5 579.4 428.9 589.6 324.9 578.4 462.8 589.6 361.0 581.6 359.5 581.4 393.9 576.1 405.9 585.7 318.7 580.9 352.0 582.4 317.4 571.2 448.2 570.6 457.1 574.7 338.4 579.8 368.5 574.3 342.1 587.3 354.7 578.3 411.9 587.6 459.5 578.0 407.5 561.6 411.8 584.1 462.8 573.7 417.6 582.8 311.3 574.8 372.8 586.3 337.4 588.1 381.0 565.2 423.0 574.6 454.6 588.3 395.3 589.6 434.8 587.7 315.8 565.4 409.8 571.1 361.1 580.2 400.7 583.8 445.2 586.0 452.0 579.7 383.0 567.6 464.0 575.0 411.5 578.7 403.8 584.0 451.6 577.9 426.3 575.9 445.8 587.7 384.5 581.7 437.4 584.6 434.4 582.1 424.4 582.6 311.9 590.0 347.4 584.1 344.2 583.7 424.8 575.5 379.8 584.1 410.2 580.6 322.6 584.6 346.2 579.9 341.3 589.5 372.3 589.9 324.2 572.3 313.9 581.2 371.6 579.9 343.9 590.1 466.1 586.6 316.7 566.6 388.7 590.0 337.7 589.6 397.3 580.7 309.6 588.5 407.3 589.6 408.4 589.9 332.8 577.0 361.8 579.3 464.5 579.0 437.0 586.0 318.4 563.9 432.6 584.2 361.9 561.8 367.2 579.5 395.2 585.7 453.7 589.5 439.9 581.3 383.0 574.5 430.9 580.6 310.1 584.3 424.7 579.1 312.8 576.7 315.8 581.9 386.5 574.7 377.8 589.9 329.1 580.5 357.4 575.8 343.0 576.0 404.3 589.4 440.0 569.0 430.7 572.7 399.5 578.5 394.1 571.2 368.4 590.3 464.0 587.9 356.8 588.2 401.3 588.2 417.5 576.0 403.2 580.8 429.0 587.4 381.8 579.3 399.7 587.4 341.8 582.2 416.4 582.6 416.4 577.8 467.3 573.4 430.7 585.5 404.3 570.4 358.0 589.6 409.3 584.6 369.4 578.6 437.1 577.4 320.0 570.8 361.6 587.8 402.0 577.2 460.3 585.2 457.3 584.9 335.2 576.5 385.9 577.2 404.0 585.6 357.8 574.0 371.0 573.5 306.6 576.4 409.5 573.9 329.6 587.9 320.0 580.7 319.5 589.4 462.1 575.3 417.5 569.7 429.7 584.6 452.2 583.3 446.6 577.0 459.2 583.9 422.0 576.3 458.0 572.6 339.8 577.6 467.6 579.4 467.4 583.0 359.4 584.2 420.8 568.6 440.0 584.3 413.6 585.2 440.5 578.2 403.5 587.8 357.8 587.8 305.3 579.5 419.5 590.1 345.0 563.3 348.8 576.3 464.9 584.2 366.7 586.7 334.3 583.5 403.4 575.4 334.2 587.4 343.6 586.1 448.1 588.2 328.7 563.4 330.0 585.6 422.0 578.3 371.5 589.9 426.9 589.5 450.4 589.7 342.9 579.6 341.5 584.1 460.1 582.0 381.5 589.9 411.5 570.1 435.5 577.0 420.7 581.9 323.8 578.1 406.9 587.6 327.7 578.6 383.3 590.2 311.5 569.2 348.6 588.0 352.4 579.0 386.2 588.3 340.4 565.7 465.6 575.9 413.8 588.2 451.4 583.2 363.3 576.5 394.1 565.2 331.9 565.4 451.8 570.0 429.6 576.3 467.7 590.3 428.2 589.9 392.4 585.6 412.0 576.5 457.2 582.7 390.2 583.9 310.1 589.9 467.4 588.7 462.1 576.8 423.3 586.1 361.0 589.9 410.0 573.2 410.3 578.7 320.4 588.1 413.4 570.0 436.7 582.7 421.2 580.3 318.1 586.0 403.4 578.4 416.6 575.0 362.9 574.5 345.1 586.3 405.9 578.9 444.1 587.5 314.7 578.6 350.2 561.4 309.3 580.3 384.1 574.1 444.4 589.6 430.9 589.7 406.8 577.1 461.4 582.6 452.3 579.6 396.4 576.6 307.9 582.6 391.7 589.6 397.5 566.4 384.1 579.9 435.6 582.2 324.5 586.0 432.0 586.3 439.7 574.8 423.3 589.5 325.9 580.4 436.8 578.7 458.0 574.4 346.2 565.3 401.1 579.9 396.5 583.7 413.3 576.7 450.2 581.8 453.6 577.0 356.6 580.4 371.6 587.7 460.6 576.2 331.5 587.4 426.7 586.4 432.5 582.4 360.7 566.0 421.2 589.7 453.2 568.0 390.1 586.0 312.8 575.4 333.0 578.4 446.0 579.1 382.6 581.0 405.9 580.4 316.3 584.5 407.7 576.8 313.8 576.8 411.9 582.7 303.5 586.0 368.0 587.3 336.6 577.8 338.6 570.9 458.1 588.4 339.7 573.7 445.7 582.9" fill="none" stroke="none" marker-start="url(#mn)" marker-mid="url(#mn)" marker-end="url(#mn)"/>
<path d="M318.2 562.3 342.4 562.3 358.8 562.3 366.6 553.6 371.0 554.5 381.3 552.8 383.9 562.3 384.8 560.6 405.0 553.5 407.6 555.2 387.5 559.3 398.4 561.9 447.7 559.3 453.6 561.9 461.1 566.9 431.8 567.7 424.3 571.0 435.2 571.9 437.7 573.6 365.0 534.2 366.5 554.2 368.5 555.8 381.5 552.3 379.6 555.0 372.3 558.5 387.7 559.2 310.0 565.0 326.0 566.0 334.0 567.0 350.0 565.0 395.0 566.0 420.0 566.0" fill="none" stroke="none" marker-start="url(#mn)" marker-mid="url(#mn)" marker-end="url(#mn)"/>
<circle cx="379.20" cy="519.60" r="1.35" fill="#34c040" stroke="#156a1c" stroke-width="0.55"/>
<circle cx="379.20" cy="521.90" r="1.35" fill="#34c040" stroke="#156a1c" stroke-width="0.55"/>
<circle cx="374.20" cy="528.50" r="1.35" fill="#dc9a2c" stroke="#6a4010" stroke-width="0.55"/>
<circle cx="375.80" cy="530.00" r="1.35" fill="#34c040" stroke="#156a1c" stroke-width="0.55"/>
<circle cx="377.40" cy="529.00" r="1.35" fill="#34c040" stroke="#156a1c" stroke-width="0.55"/>
<circle cx="379.00" cy="528.00" r="1.35" fill="#34c040" stroke="#156a1c" stroke-width="0.55"/>
<circle cx="376.50" cy="531.50" r="1.35" fill="#34c040" stroke="#156a1c" stroke-width="0.55"/>
<circle cx="378.30" cy="530.80" r="1.35" fill="#34c040" stroke="#156a1c" stroke-width="0.55"/>
<circle cx="371.20" cy="530.40" r="1.35" fill="#92c2e6" stroke="#4f7ca6" stroke-width="0.55"/>
<circle cx="368.50" cy="536.20" r="1.35" fill="#92c2e6" stroke="#4f7ca6" stroke-width="0.55"/>
<circle cx="369.20" cy="537.30" r="1.35" fill="#92c2e6" stroke="#4f7ca6" stroke-width="0.55"/>
<circle cx="373.50" cy="535.40" r="1.35" fill="#34c040" stroke="#156a1c" stroke-width="0.55"/>
<circle cx="378.80" cy="534.60" r="1.35" fill="#92c2e6" stroke="#4f7ca6" stroke-width="0.55"/>
<circle cx="380.50" cy="536.00" r="1.35" fill="#92c2e6" stroke="#4f7ca6" stroke-width="0.55"/>
<circle cx="381.20" cy="537.70" r="1.35" fill="#92c2e6" stroke="#4f7ca6" stroke-width="0.55"/>
<circle cx="373.10" cy="539.60" r="1.35" fill="#92c2e6" stroke="#4f7ca6" stroke-width="0.55"/>
<circle cx="371.50" cy="541.50" r="1.35" fill="#92c2e6" stroke="#4f7ca6" stroke-width="0.55"/>
<circle cx="365.40" cy="541.20" r="1.35" fill="#92c2e6" stroke="#4f7ca6" stroke-width="0.55"/>
<circle cx="369.60" cy="544.60" r="1.35" fill="#92c2e6" stroke="#4f7ca6" stroke-width="0.55"/>
<circle cx="373.80" cy="544.60" r="1.35" fill="#34c040" stroke="#156a1c" stroke-width="0.55"/>
<circle cx="375.00" cy="545.20" r="1.35" fill="#34c040" stroke="#156a1c" stroke-width="0.55"/>
<circle cx="373.10" cy="548.80" r="1.35" fill="#92c2e6" stroke="#4f7ca6" stroke-width="0.55"/>
<circle cx="372.30" cy="554.20" r="1.35" fill="#92c2e6" stroke="#4f7ca6" stroke-width="0.55"/>
<circle cx="378.4" cy="477.8" r="1.4" fill="#3b3a78" stroke="#1a1a40" stroke-width="0.45"/>
<text x="363.80" y="473.90" font-size="5.2" text-anchor="start" font-weight="normal" font-style="normal" fill="#222" textLength="28.2" lengthAdjust="spacingAndGlyphs" stroke="#222" stroke-width="0.12">rs4075970</text>
<rect x="302.40" y="460.70" width="166.90" height="134.50" fill="none" stroke="#000" stroke-width="1.4" />
<line x1="299.20" y1="589.30" x2="302.40" y2="589.30" stroke="#000" stroke-width="1"/>
<text x="296.20" y="591.40" font-size="6.0" text-anchor="end" font-weight="normal" font-style="normal" fill="#333" stroke="#333" stroke-width="0.12">0</text>
<line x1="299.20" y1="562.52" x2="302.40" y2="562.52" stroke="#000" stroke-width="1"/>
<text x="296.20" y="564.62" font-size="6.0" text-anchor="end" font-weight="normal" font-style="normal" fill="#333" stroke="#333" stroke-width="0.12">2</text>
<line x1="299.20" y1="535.74" x2="302.40" y2="535.74" stroke="#000" stroke-width="1"/>
<text x="296.20" y="537.84" font-size="6.0" text-anchor="end" font-weight="normal" font-style="normal" fill="#333" stroke="#333" stroke-width="0.12">4</text>
<line x1="299.20" y1="508.96" x2="302.40" y2="508.96" stroke="#000" stroke-width="1"/>
<text x="296.20" y="511.06" font-size="6.0" text-anchor="end" font-weight="normal" font-style="normal" fill="#333" stroke="#333" stroke-width="0.12">6</text>
<line x1="299.20" y1="482.18" x2="302.40" y2="482.18" stroke="#000" stroke-width="1"/>
<text x="296.20" y="484.28" font-size="6.0" text-anchor="end" font-weight="normal" font-style="normal" fill="#333" stroke="#333" stroke-width="0.12">8</text>
<line x1="469.30" y1="589.60" x2="472.30" y2="589.60" stroke="#000" stroke-width="1"/>
<text x="475.70" y="591.70" font-size="6.0" text-anchor="start" font-weight="normal" font-style="normal" fill="#555" stroke="#555" stroke-width="0.12">0</text>
<line x1="469.30" y1="565.08" x2="472.30" y2="565.08" stroke="#000" stroke-width="1"/>
<text x="475.70" y="567.18" font-size="6.0" text-anchor="start" font-weight="normal" font-style="normal" fill="#555" stroke="#555" stroke-width="0.12">20</text>
<line x1="469.30" y1="540.56" x2="472.30" y2="540.56" stroke="#000" stroke-width="1"/>
<text x="475.70" y="542.66" font-size="6.0" text-anchor="start" font-weight="normal" font-style="normal" fill="#555" stroke="#555" stroke-width="0.12">40</text>
<line x1="469.30" y1="516.04" x2="472.30" y2="516.04" stroke="#000" stroke-width="1"/>
<text x="475.70" y="518.14" font-size="6.0" text-anchor="start" font-weight="normal" font-style="normal" fill="#555" stroke="#555" stroke-width="0.12">60</text>
<line x1="469.30" y1="491.52" x2="472.30" y2="491.52" stroke="#000" stroke-width="1"/>
<text x="475.70" y="493.62" font-size="6.0" text-anchor="start" font-weight="normal" font-style="normal" fill="#555" stroke="#555" stroke-width="0.12">80</text>
<line x1="469.30" y1="467.00" x2="472.30" y2="467.00" stroke="#000" stroke-width="1"/>
<text x="475.70" y="469.10" font-size="6.0" text-anchor="start" font-weight="normal" font-style="normal" fill="#555" stroke="#555" stroke-width="0.12">100</text>
<rect x="302.40" y="600.20" width="166.90" height="23.20" fill="none" stroke="#000" stroke-width="1.4" />
<line x1="330.80" y1="623.40" x2="330.80" y2="626.40" stroke="#000" stroke-width="1"/>
<text x="330.80" y="634.60" font-size="6.0" text-anchor="middle" font-weight="normal" font-style="normal" fill="#333" stroke="#333" stroke-width="0.12">43.1</text>
<line x1="365.35" y1="623.40" x2="365.35" y2="626.40" stroke="#000" stroke-width="1"/>
<text x="365.35" y="634.60" font-size="6.0" text-anchor="middle" font-weight="normal" font-style="normal" fill="#333" stroke="#333" stroke-width="0.12">43.2</text>
<line x1="399.90" y1="623.40" x2="399.90" y2="626.40" stroke="#000" stroke-width="1"/>
<text x="399.90" y="634.60" font-size="6.0" text-anchor="middle" font-weight="normal" font-style="normal" fill="#333" stroke="#333" stroke-width="0.12">43.3</text>
<line x1="434.45" y1="623.40" x2="434.45" y2="626.40" stroke="#000" stroke-width="1"/>
<text x="434.45" y="634.60" font-size="6.0" text-anchor="middle" font-weight="normal" font-style="normal" fill="#333" stroke="#333" stroke-width="0.12">43.4</text>
<text x="349.80" y="648.00" font-size="9.5" text-anchor="start" font-weight="normal" font-style="normal" fill="#222" textLength="73" lengthAdjust="spacingAndGlyphs" stroke="#222" stroke-width="0.4">Position on chr21 (Mb)</text>
<text transform="translate(283.50,527.70) rotate(-90)" font-size="9.3" fill="#222" stroke="#222" stroke-width="0.4" text-anchor="middle" textLength="46" lengthAdjust="spacingAndGlyphs">-log<tspan font-size="6.2" dy="1.8">10</tspan><tspan dy="-1.8">(p-value)</tspan></text>
<text transform="translate(491.00,527.50) rotate(90)" font-size="9.3" fill="#464690" stroke="#464690" stroke-width="0.4" text-anchor="middle" textLength="95" lengthAdjust="spacingAndGlyphs">Recombination rate (cM/Mb)</text>
<rect x="452.60" y="469.50" width="5.20" height="5.50" fill="#e8141c" stroke="none" stroke-width="1" />
<rect x="452.60" y="475.00" width="5.20" height="5.50" fill="#f5a020" stroke="none" stroke-width="1" />
<rect x="452.60" y="480.50" width="5.20" height="5.50" fill="#2ccf3a" stroke="none" stroke-width="1" />
<rect x="452.60" y="486.00" width="5.20" height="5.50" fill="#8cc8f0" stroke="none" stroke-width="1" />
<rect x="452.60" y="491.50" width="5.20" height="5.50" fill="#0a0a50" stroke="none" stroke-width="1" />
<text x="461.00" y="476.50" font-size="4.4" text-anchor="start" font-weight="normal" font-style="normal" fill="#222" stroke="#222" stroke-width="0.12">0.8</text>
<text x="461.00" y="482.00" font-size="4.4" text-anchor="start" font-weight="normal" font-style="normal" fill="#222" stroke="#222" stroke-width="0.12">0.6</text>
<text x="461.00" y="487.50" font-size="4.4" text-anchor="start" font-weight="normal" font-style="normal" fill="#222" stroke="#222" stroke-width="0.12">0.4</text>
<text x="461.00" y="493.00" font-size="4.4" text-anchor="start" font-weight="normal" font-style="normal" fill="#222" stroke="#222" stroke-width="0.12">0.2</text>
<text x="458.80" y="468.00" font-size="5" font-style="italic" fill="#333">r<tspan font-size="3.4" dy="-2">2</tspan></text>
<text x="316.30" y="605.30" font-size="4.9" text-anchor="start" font-weight="normal" font-style="italic" fill="#333" textLength="28.50" lengthAdjust="spacingAndGlyphs">LINC00111-&gt;</text>
<text x="348.50" y="605.30" font-size="4.9" text-anchor="start" font-weight="normal" font-style="italic" fill="#333" textLength="19.00" lengthAdjust="spacingAndGlyphs">&lt;-RIPK4</text>
<rect x="351.00" y="606.00" width="9.00" height="1.00" fill="#2a3a8a" stroke="none" stroke-width="1" />
<text x="374.80" y="605.30" font-size="4.9" text-anchor="start" font-weight="normal" font-style="italic" fill="#333" textLength="24.80" lengthAdjust="spacingAndGlyphs">&lt;-PRDM15</text>
<rect x="376.00" y="606.00" width="23.00" height="1.00" fill="#2a3a8a" stroke="none" stroke-width="1" />
<text x="404.00" y="605.30" font-size="4.9" text-anchor="start" font-weight="normal" font-style="italic" fill="#333" textLength="22.00" lengthAdjust="spacingAndGlyphs">&lt;-C2CD2</text>
<rect x="410.00" y="606.00" width="14.00" height="1.00" fill="#2a3a8a" stroke="none" stroke-width="1" />
<text x="433.20" y="605.30" font-size="4.9" text-anchor="start" font-weight="normal" font-style="italic" fill="#333" textLength="17.60" lengthAdjust="spacingAndGlyphs">&lt;-ZNF295</text>
<rect x="440.00" y="606.00" width="6.00" height="1.00" fill="#2a3a8a" stroke="none" stroke-width="1" />
<text x="329.50" y="612.30" font-size="4.9" text-anchor="start" font-weight="normal" font-style="italic" fill="#333" textLength="29.90" lengthAdjust="spacingAndGlyphs">&lt;-LINC00479</text>
<rect x="338.00" y="613.00" width="2.00" height="1.00" fill="#2a3a8a" stroke="none" stroke-width="1" />
<text x="430.70" y="612.30" font-size="4.9" text-anchor="start" font-weight="normal" font-style="italic" fill="#333" textLength="31.00" lengthAdjust="spacingAndGlyphs">ZNF295-AS1-&gt;</text>
<text x="326.50" y="619.30" font-size="4.9" text-anchor="start" font-weight="normal" font-style="italic" fill="#333" textLength="31.10" lengthAdjust="spacingAndGlyphs">LINC00112-&gt;</text>
<rect x="339.00" y="620.00" width="1.00" height="1.00" fill="#2a3a8a" stroke="none" stroke-width="1" />
<text x="445.30" y="619.30" font-size="4.9" text-anchor="start" font-weight="normal" font-style="italic" fill="#333" textLength="16.40" lengthAdjust="spacingAndGlyphs">UMODL1</text>
</svg></body></html>
